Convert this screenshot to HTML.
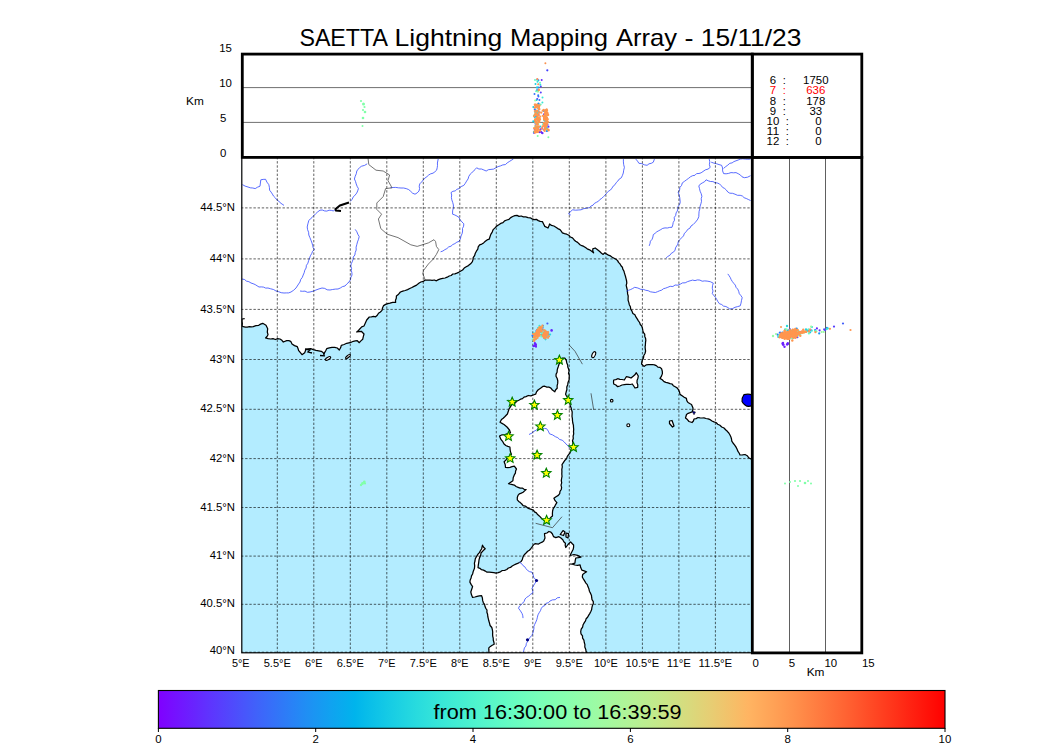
<!DOCTYPE html>
<html><head><meta charset="utf-8"><style>
html,body{margin:0;padding:0;background:#fff;}
svg{display:block;font-family:"Liberation Sans",sans-serif;}
</style></head><body>
<svg width="1050" height="750" viewBox="0 0 1050 750">
<rect x="0" y="0" width="1050" height="750" fill="#fff"/>
<text x="299.4" y="45.6" font-size="24" textLength="88.6" lengthAdjust="spacingAndGlyphs">SAETTA</text>
<text x="394.6" y="45.6" font-size="24" textLength="107.6" lengthAdjust="spacingAndGlyphs">Lightning</text>
<text x="510" y="45.6" font-size="24" textLength="98" lengthAdjust="spacingAndGlyphs">Mapping</text>
<text x="616" y="45.6" font-size="24" textLength="61" lengthAdjust="spacingAndGlyphs">Array</text>
<text x="684.4" y="45.6" font-size="24" textLength="9" lengthAdjust="spacingAndGlyphs">-</text>
<text x="700.8" y="45.6" font-size="24" textLength="100.6" lengthAdjust="spacingAndGlyphs">15/11/23</text>
<defs><clipPath id="mc"><rect x="241.5" y="157" width="511" height="496"/></clipPath><clipPath id="tc"><rect x="242" y="54" width="510" height="103"/></clipPath><clipPath id="rc"><rect x="752" y="157" width="110" height="496"/></clipPath><linearGradient id="cb" x1="0" x2="1" y1="0" y2="0"><stop offset="0.0000" stop-color="#8000ff"/><stop offset="0.0156" stop-color="#780dff"/><stop offset="0.0312" stop-color="#7019ff"/><stop offset="0.0469" stop-color="#6825fe"/><stop offset="0.0625" stop-color="#6032fe"/><stop offset="0.0781" stop-color="#583efd"/><stop offset="0.0938" stop-color="#504afc"/><stop offset="0.1094" stop-color="#4856fb"/><stop offset="0.1250" stop-color="#4062fa"/><stop offset="0.1406" stop-color="#386df9"/><stop offset="0.1562" stop-color="#3078f7"/><stop offset="0.1719" stop-color="#2883f6"/><stop offset="0.1875" stop-color="#208ef4"/><stop offset="0.2031" stop-color="#1898f2"/><stop offset="0.2188" stop-color="#10a2f0"/><stop offset="0.2344" stop-color="#08abee"/><stop offset="0.2500" stop-color="#00b4ec"/><stop offset="0.2656" stop-color="#08bde9"/><stop offset="0.2812" stop-color="#10c5e7"/><stop offset="0.2969" stop-color="#18cde4"/><stop offset="0.3125" stop-color="#20d4e1"/><stop offset="0.3281" stop-color="#28dbde"/><stop offset="0.3438" stop-color="#30e1db"/><stop offset="0.3594" stop-color="#38e7d7"/><stop offset="0.3750" stop-color="#40ecd4"/><stop offset="0.3906" stop-color="#48f0d0"/><stop offset="0.4062" stop-color="#50f4cd"/><stop offset="0.4219" stop-color="#58f7c9"/><stop offset="0.4375" stop-color="#60fac5"/><stop offset="0.4531" stop-color="#68fcc1"/><stop offset="0.4688" stop-color="#70febd"/><stop offset="0.4844" stop-color="#78ffb9"/><stop offset="0.5000" stop-color="#80ffb4"/><stop offset="0.5156" stop-color="#87ffb0"/><stop offset="0.5312" stop-color="#8ffeab"/><stop offset="0.5469" stop-color="#97fca7"/><stop offset="0.5625" stop-color="#9ffaa2"/><stop offset="0.5781" stop-color="#a7f79d"/><stop offset="0.5938" stop-color="#aff498"/><stop offset="0.6094" stop-color="#b7f093"/><stop offset="0.6250" stop-color="#bfec8e"/><stop offset="0.6406" stop-color="#c7e788"/><stop offset="0.6562" stop-color="#cfe183"/><stop offset="0.6719" stop-color="#d7db7e"/><stop offset="0.6875" stop-color="#dfd478"/><stop offset="0.7031" stop-color="#e7cd73"/><stop offset="0.7188" stop-color="#efc56d"/><stop offset="0.7344" stop-color="#f7bd67"/><stop offset="0.7500" stop-color="#ffb462"/><stop offset="0.7656" stop-color="#ffab5c"/><stop offset="0.7812" stop-color="#ffa256"/><stop offset="0.7969" stop-color="#ff9850"/><stop offset="0.8125" stop-color="#ff8e4a"/><stop offset="0.8281" stop-color="#ff8344"/><stop offset="0.8438" stop-color="#ff783e"/><stop offset="0.8594" stop-color="#ff6d38"/><stop offset="0.8750" stop-color="#ff6232"/><stop offset="0.8906" stop-color="#ff562c"/><stop offset="0.9062" stop-color="#ff4a25"/><stop offset="0.9219" stop-color="#ff3e1f"/><stop offset="0.9375" stop-color="#ff3219"/><stop offset="0.9531" stop-color="#ff2513"/><stop offset="0.9688" stop-color="#ff190d"/><stop offset="0.9844" stop-color="#ff0d06"/><stop offset="1.0000" stop-color="#ff0000"/></linearGradient></defs>
<g clip-path="url(#mc)">
<rect x="241" y="157" width="512" height="497" fill="#b3ecff"/>
<polygon points="244.7,318.7 242.0,319.0 241.9,321.3 242.3,323.7 242.0,326.0 243.3,326.7 245.3,327.2 247.3,327.1 249.3,326.7 251.3,326.9 253.3,326.7 255.9,325.7 258.7,325.3 260.6,324.1 262.7,323.3 266.0,325.3 267.7,328.7 267.3,332.0 268.0,334.7 267.0,336.5 265.6,338.0 268.1,338.7 270.7,339.0 273.0,338.7 275.4,339.5 277.7,338.6 280.0,339.0 281.9,340.3 283.3,342.0 286.7,340.7 288.8,340.6 290.7,341.3 292.0,344.0 294.5,345.6 297.3,346.7 298.1,348.7 298.7,350.7 300.4,352.7 302.0,354.7 304.7,352.7 306.0,349.3 308.3,348.8 310.7,348.7 313.3,349.7 316.0,350.4 318.7,350.8 321.3,351.3 323.3,352.7 324.0,354.7 324.6,352.6 325.7,350.7 326.7,348.7 329.3,347.8 332.0,347.3 334.7,347.3 337.3,348.0 339.3,350.0 340.6,347.8 341.3,345.3 344.1,344.5 346.7,343.3 348.9,342.8 351.2,342.3 353.3,341.3 355.3,340.9 357.3,340.7 359.3,342.7 360.9,340.9 362.7,339.3 363.3,336.6 364.0,334.0 361.3,331.3 359.0,331.7 356.7,332.0 358.5,330.5 360.0,328.7 361.7,326.9 364.0,326.0 364.9,324.0 365.8,322.0 366.7,320.0 369.3,317.0 371.4,316.8 373.5,316.4 375.6,316.8 377.3,315.3 378.5,313.3 380.4,312.0 382.0,310.4 382.5,307.9 383.6,305.6 385.6,304.4 387.8,303.7 390.0,303.2 392.7,302.4 395.6,302.4 395.5,300.2 396.3,298.2 396.4,296.0 398.6,294.2 400.4,292.0 402.8,291.1 405.2,290.5 407.6,289.6 409.7,288.5 411.9,287.5 414.0,286.4 416.6,285.1 418.8,283.2 420.8,282.0 423.2,281.4 425.2,280.0 427.6,280.2 430.0,280.0 432.1,280.4 434.3,280.0 436.4,280.8 438.4,279.6 440.5,278.8 442.7,278.3 445.1,278.0 447.2,277.2 449.2,276.0 451.2,275.5 452.8,274.0 454.9,273.8 456.8,273.1 458.7,272.3 460.4,271.2 462.6,270.0 464.2,268.1 466.2,266.7 468.4,265.6 470.6,263.8 472.4,261.6 473.0,259.6 473.2,257.6 474.6,255.6 475.3,253.3 476.4,251.2 477.8,249.2 478.2,246.8 479.6,244.8 481.8,244.1 483.6,242.9 485.3,241.3 487.1,239.9 489.2,239.2 490.0,236.8 490.8,234.4 492.2,232.1 493.2,229.6 495.0,227.9 496.6,226.1 498.8,224.8 500.7,223.4 503.0,222.7 504.6,220.8 506.8,220.0 509.0,219.3 510.7,217.6 512.7,216.5 514.8,215.7 517.0,215.4 519.0,216.4 521.2,216.0 523.4,216.9 525.8,216.9 528.0,217.6 530.2,217.8 532.1,218.9 534.1,219.7 536.4,219.4 538.3,220.6 540.2,221.4 542.4,221.6 543.6,224.0 544.8,226.4 548.0,228.0 548.9,226.0 549.6,224.0 551.5,225.4 553.9,226.0 555.9,227.2 557.8,228.6 560.0,229.6 561.2,231.2 562.4,232.8 564.5,233.6 566.7,234.2 568.8,235.2 570.3,237.0 572.5,237.9 574.0,239.7 575.6,241.3 577.6,242.4 580.0,244.8 581.8,245.7 583.8,246.4 585.5,247.6 587.2,248.8 589.6,249.8 591.7,251.2 593.6,252.8 592.8,250.9 592.8,248.8 595.2,248.0 596.9,249.2 598.5,250.5 600.0,251.8 601.5,253.2 603.2,254.4 604.8,252.8 606.6,254.0 608.4,255.1 610.5,255.9 612.2,257.2 614.1,258.2 616.0,259.2 617.6,260.6 618.5,262.4 620.0,263.9 621.0,265.7 622.4,267.2 622.8,269.2 623.9,271.0 624.4,272.9 625.0,274.9 625.6,276.8 626.1,278.9 626.6,281.0 626.8,283.1 626.2,285.4 626.7,287.5 627.2,289.6 627.5,291.7 627.6,293.9 628.2,296.0 628.1,298.2 628.1,300.3 628.8,302.4 629.3,304.7 630.4,306.8 630.7,309.2 632.0,311.2 632.9,313.4 634.9,314.8 635.9,316.9 637.2,318.9 638.4,320.8 639.6,322.5 640.3,324.5 641.7,326.0 642.4,328.0 642.8,330.2 643.3,332.3 644.7,334.1 644.8,336.4 645.6,338.4 645.8,340.5 645.5,342.7 645.4,344.8 645.1,346.9 645.3,349.1 645.6,351.2 645.0,353.5 643.8,355.5 643.5,357.9 642.4,360.0 641.8,362.0 641.6,364.0 644.0,366.4 646.4,364.8 648.4,364.7 650.4,364.6 652.4,364.5 654.4,364.8 656.3,365.6 657.9,367.1 660.0,367.4 661.6,368.8 662.3,371.2 662.4,373.6 661.5,376.1 660.0,378.4 662.2,379.7 664.0,381.6 665.9,382.4 668.0,382.9 670.0,383.6 672.0,384.0 673.3,385.7 675.2,386.8 677.1,387.9 678.4,389.6 679.5,391.9 680.0,394.4 682.1,395.7 684.2,397.2 686.4,398.4 686.8,400.6 688.0,402.5 689.7,403.5 691.5,404.5 693.0,408.0 692.8,410.1 692.0,412.0 690.1,412.7 688.2,413.3 686.5,414.5 685.5,418.0 687.4,419.6 689.0,421.5 692.0,422.5 693.4,421.0 694.0,419.0 696.1,418.6 698.0,417.5 700.0,417.8 702.0,418.0 704.0,417.9 706.0,418.5 708.1,418.9 710.2,419.7 712.0,421.0 713.9,421.9 716.0,422.5 717.7,424.3 719.9,425.3 721.7,427.0 724.0,428.0 725.6,429.7 727.3,431.3 728.8,433.0 730.0,435.0 730.9,436.9 731.5,439.0 731.8,441.2 733.0,443.0 734.5,444.9 735.9,446.9 737.0,449.0 737.8,451.1 739.1,453.0 740.0,455.0 742.5,454.8 745.0,454.5 747.2,455.7 748.8,457.8 751.0,459.0 753.0,460.5 760.0,460.0 760.0,150.0 235.0,150.0 235.0,318.7" fill="#fff"/>
<polyline points="244.7,318.7 242.0,319.0 241.9,321.3 242.3,323.7 242.0,326.0 243.3,326.7 245.3,327.2 247.3,327.1 249.3,326.7 251.3,326.9 253.3,326.7 255.9,325.7 258.7,325.3 260.6,324.1 262.7,323.3 266.0,325.3 267.7,328.7 267.3,332.0 268.0,334.7 267.0,336.5 265.6,338.0 268.1,338.7 270.7,339.0 273.0,338.7 275.4,339.5 277.7,338.6 280.0,339.0 281.9,340.3 283.3,342.0 286.7,340.7 288.8,340.6 290.7,341.3 292.0,344.0 294.5,345.6 297.3,346.7 298.1,348.7 298.7,350.7 300.4,352.7 302.0,354.7 304.7,352.7 306.0,349.3 308.3,348.8 310.7,348.7 313.3,349.7 316.0,350.4 318.7,350.8 321.3,351.3 323.3,352.7 324.0,354.7 324.6,352.6 325.7,350.7 326.7,348.7 329.3,347.8 332.0,347.3 334.7,347.3 337.3,348.0 339.3,350.0 340.6,347.8 341.3,345.3 344.1,344.5 346.7,343.3 348.9,342.8 351.2,342.3 353.3,341.3 355.3,340.9 357.3,340.7 359.3,342.7 360.9,340.9 362.7,339.3 363.3,336.6 364.0,334.0 361.3,331.3 359.0,331.7 356.7,332.0 358.5,330.5 360.0,328.7 361.7,326.9 364.0,326.0 364.9,324.0 365.8,322.0 366.7,320.0 369.3,317.0 371.4,316.8 373.5,316.4 375.6,316.8 377.3,315.3 378.5,313.3 380.4,312.0 382.0,310.4 382.5,307.9 383.6,305.6 385.6,304.4 387.8,303.7 390.0,303.2 392.7,302.4 395.6,302.4 395.5,300.2 396.3,298.2 396.4,296.0 398.6,294.2 400.4,292.0 402.8,291.1 405.2,290.5 407.6,289.6 409.7,288.5 411.9,287.5 414.0,286.4 416.6,285.1 418.8,283.2 420.8,282.0 423.2,281.4 425.2,280.0 427.6,280.2 430.0,280.0 432.1,280.4 434.3,280.0 436.4,280.8 438.4,279.6 440.5,278.8 442.7,278.3 445.1,278.0 447.2,277.2 449.2,276.0 451.2,275.5 452.8,274.0 454.9,273.8 456.8,273.1 458.7,272.3 460.4,271.2 462.6,270.0 464.2,268.1 466.2,266.7 468.4,265.6 470.6,263.8 472.4,261.6 473.0,259.6 473.2,257.6 474.6,255.6 475.3,253.3 476.4,251.2 477.8,249.2 478.2,246.8 479.6,244.8 481.8,244.1 483.6,242.9 485.3,241.3 487.1,239.9 489.2,239.2 490.0,236.8 490.8,234.4 492.2,232.1 493.2,229.6 495.0,227.9 496.6,226.1 498.8,224.8 500.7,223.4 503.0,222.7 504.6,220.8 506.8,220.0 509.0,219.3 510.7,217.6 512.7,216.5 514.8,215.7 517.0,215.4 519.0,216.4 521.2,216.0 523.4,216.9 525.8,216.9 528.0,217.6 530.2,217.8 532.1,218.9 534.1,219.7 536.4,219.4 538.3,220.6 540.2,221.4 542.4,221.6 543.6,224.0 544.8,226.4 548.0,228.0 548.9,226.0 549.6,224.0 551.5,225.4 553.9,226.0 555.9,227.2 557.8,228.6 560.0,229.6 561.2,231.2 562.4,232.8 564.5,233.6 566.7,234.2 568.8,235.2 570.3,237.0 572.5,237.9 574.0,239.7 575.6,241.3 577.6,242.4 580.0,244.8 581.8,245.7 583.8,246.4 585.5,247.6 587.2,248.8 589.6,249.8 591.7,251.2 593.6,252.8 592.8,250.9 592.8,248.8 595.2,248.0 596.9,249.2 598.5,250.5 600.0,251.8 601.5,253.2 603.2,254.4 604.8,252.8 606.6,254.0 608.4,255.1 610.5,255.9 612.2,257.2 614.1,258.2 616.0,259.2 617.6,260.6 618.5,262.4 620.0,263.9 621.0,265.7 622.4,267.2 622.8,269.2 623.9,271.0 624.4,272.9 625.0,274.9 625.6,276.8 626.1,278.9 626.6,281.0 626.8,283.1 626.2,285.4 626.7,287.5 627.2,289.6 627.5,291.7 627.6,293.9 628.2,296.0 628.1,298.2 628.1,300.3 628.8,302.4 629.3,304.7 630.4,306.8 630.7,309.2 632.0,311.2 632.9,313.4 634.9,314.8 635.9,316.9 637.2,318.9 638.4,320.8 639.6,322.5 640.3,324.5 641.7,326.0 642.4,328.0 642.8,330.2 643.3,332.3 644.7,334.1 644.8,336.4 645.6,338.4 645.8,340.5 645.5,342.7 645.4,344.8 645.1,346.9 645.3,349.1 645.6,351.2 645.0,353.5 643.8,355.5 643.5,357.9 642.4,360.0 641.8,362.0 641.6,364.0 644.0,366.4 646.4,364.8 648.4,364.7 650.4,364.6 652.4,364.5 654.4,364.8 656.3,365.6 657.9,367.1 660.0,367.4 661.6,368.8 662.3,371.2 662.4,373.6 661.5,376.1 660.0,378.4 662.2,379.7 664.0,381.6 665.9,382.4 668.0,382.9 670.0,383.6 672.0,384.0 673.3,385.7 675.2,386.8 677.1,387.9 678.4,389.6 679.5,391.9 680.0,394.4 682.1,395.7 684.2,397.2 686.4,398.4 686.8,400.6 688.0,402.5 689.7,403.5 691.5,404.5 693.0,408.0 692.8,410.1 692.0,412.0 690.1,412.7 688.2,413.3 686.5,414.5 685.5,418.0 687.4,419.6 689.0,421.5 692.0,422.5 693.4,421.0 694.0,419.0 696.1,418.6 698.0,417.5 700.0,417.8 702.0,418.0 704.0,417.9 706.0,418.5 708.1,418.9 710.2,419.7 712.0,421.0 713.9,421.9 716.0,422.5 717.7,424.3 719.9,425.3 721.7,427.0 724.0,428.0 725.6,429.7 727.3,431.3 728.8,433.0 730.0,435.0 730.9,436.9 731.5,439.0 731.8,441.2 733.0,443.0 734.5,444.9 735.9,446.9 737.0,449.0 737.8,451.1 739.1,453.0 740.0,455.0 742.5,454.8 745.0,454.5 747.2,455.7 748.8,457.8 751.0,459.0 753.0,460.5" fill="none" stroke="#000" stroke-width="1.25" stroke-linejoin="round"/>
<polygon points="562.0,358.2 565.0,358.2 566.3,360.4 566.8,363.0 567.7,364.9 567.8,367.1 568.6,369.0 569.1,371.1 568.5,373.2 569.3,375.3 569.2,377.4 569.1,379.9 568.1,382.2 567.7,384.7 566.8,387.0 566.9,389.5 566.2,391.8 565.6,394.2 566.5,396.0 567.7,397.7 568.0,399.8 569.2,401.4 570.0,403.4 570.2,405.7 571.1,407.7 571.6,409.8 572.2,412.0 572.1,414.2 572.0,416.4 572.4,418.6 572.5,420.8 572.8,423.0 573.4,425.1 573.5,427.3 573.7,429.4 573.5,431.6 573.7,433.8 573.1,436.1 573.3,438.5 572.5,440.8 573.0,443.2 572.3,445.5 571.8,448.0 570.7,450.4 570.1,452.9 568.6,454.6 567.3,456.4 566.6,458.6 565.0,460.2 563.5,462.4 562.0,464.6 562.3,466.9 561.8,469.3 561.9,471.6 561.8,474.0 562.0,476.3 561.6,478.5 561.3,480.7 561.7,482.9 561.0,485.1 561.6,487.3 561.3,489.5 560.0,491.3 559.7,493.6 558.3,495.4 556.0,496.7 553.9,498.3 555.1,500.7 556.9,502.7 555.6,504.6 554.6,506.7 553.2,508.6 552.6,511.0 552.4,513.5 552.5,516.0 550.9,517.3 549.5,518.9 548.2,520.5 546.6,521.8 544.6,520.3 542.4,519.3 540.7,517.4 539.3,515.9 537.6,514.6 536.4,512.9 534.5,511.9 533.4,510.1 531.3,509.3 529.1,508.7 527.2,507.6 525.3,506.1 523.1,505.7 521.8,504.0 520.3,502.6 518.7,501.4 517.3,499.8 517.3,497.5 518.0,495.4 519.3,493.8 521.3,493.1 523.1,492.3 524.6,490.9 526.1,489.5 524.1,489.3 522.3,488.1 520.2,488.1 518.1,487.3 516.1,486.5 514.3,485.1 511.4,484.4 508.5,483.7 510.7,482.2 512.9,480.7 513.2,477.7 514.3,474.9 515.4,473.1 515.6,470.9 516.5,469.0 514.3,466.1 512.1,466.6 510.0,467.3 507.8,467.6 505.5,467.5 505.2,464.5 504.1,461.7 505.9,460.1 507.0,458.0 509.3,456.2 511.4,454.3 510.5,452.0 510.1,449.5 509.9,447.0 507.8,446.4 505.8,445.5 504.1,444.1 502.8,441.7 501.1,439.7 500.3,437.9 499.5,436.0 502.1,434.8 505.0,434.5 507.7,433.5 510.5,433.0 509.5,430.0 507.0,427.0 504.0,424.5 502.0,423.4 500.0,422.3 501.5,419.5 503.2,418.2 505.0,416.5 507.4,414.0 508.3,411.3 509.2,408.6 510.4,406.8 511.6,405.0 513.2,403.5 515.4,402.8 516.8,401.1 518.8,400.2 520.6,399.2 522.5,398.6 524.0,397.1 526.0,396.6 528.3,395.5 530.9,395.9 533.2,395.0 535.6,394.2 536.5,391.9 538.0,390.0 540.5,388.3 542.8,386.4 544.8,386.2 546.8,387.1 548.8,387.0 550.9,388.1 552.4,390.0 554.8,391.8 555.7,389.8 557.2,388.2 557.1,385.8 557.7,383.4 557.8,381.0 557.2,378.5 556.0,376.2 556.1,374.1 557.1,372.3 557.2,370.2 557.7,368.2 558.4,366.2 559.0,364.2 560.2,362.3 560.8,360.1 562.0,358.2" fill="#fff" stroke="#000" stroke-width="1.25" stroke-linejoin="round"/>
<polygon points="469.9,582.1 470.2,579.9 471.1,578.0 471.5,575.9 472.6,574.0 473.3,571.2 474.4,568.6 474.7,565.9 474.4,563.2 475.0,561.0 475.3,558.7 476.6,556.4 478.0,554.2 479.4,552.6 480.4,550.7 481.6,549.0 482.5,545.2 483.6,547.2 485.2,548.8 483.0,550.8 481.0,553.0 480.7,555.4 479.6,557.6 479.0,560.0 478.7,562.6 478.3,565.1 478.0,567.7 479.9,568.3 481.5,569.7 483.5,570.1 485.3,571.1 487.0,572.2 489.3,572.2 491.5,572.4 493.8,572.6 496.0,573.1 498.2,572.6 500.4,571.8 502.3,570.5 504.7,570.3 506.8,569.5 508.4,568.0 510.5,567.4 512.2,566.0 514.0,565.0 515.8,564.1 517.7,563.4 519.5,562.5 521.2,561.4 522.3,559.7 522.8,557.7 523.5,555.8 524.8,554.2 526.3,552.8 527.7,551.3 529.4,550.2 530.8,548.7 532.0,547.0 533.3,545.1 535.0,543.6 538.5,544.1 540.2,543.0 542.1,542.2 543.7,541.0 545.0,538.0 544.7,535.9 544.5,533.7 546.9,533.0 548.9,531.5 550.9,532.2 552.3,533.7 553.6,536.7 555.8,537.6 558.9,536.7 560.9,538.1 562.8,539.7 563.8,541.7 565.4,543.2 565.2,545.4 565.8,547.5 568.0,544.5 570.6,541.9 572.1,543.5 573.6,545.0 573.6,547.2 573.2,549.3 571.4,552.8 570.1,555.4 572.1,555.0 574.0,554.5 577.5,555.4 581.0,557.1 578.4,557.7 575.8,558.0 575.2,560.6 574.9,563.2 572.3,563.8 569.7,564.0 572.4,564.1 574.9,565.0 577.5,565.3 580.1,564.9 580.7,567.6 581.8,570.1 584.2,570.9 586.6,571.8 584.6,573.0 582.7,574.4 582.3,577.0 583.5,579.2 584.9,581.4 585.9,583.1 587.3,584.6 587.9,586.6 588.9,588.8 589.4,591.2 590.6,593.4 591.5,595.6 591.7,597.7 592.0,599.7 593.3,601.6 593.3,603.7 592.4,605.6 591.9,607.7 591.6,609.8 590.7,611.7 589.7,613.6 588.6,615.4 587.6,617.2 586.1,618.8 585.5,620.9 584.3,622.6 583.1,624.7 582.6,627.1 581.2,629.2 580.7,631.6 581.0,633.9 582.5,635.9 582.6,638.2 583.9,640.2 584.3,642.5 584.9,644.7 584.8,647.1 585.7,649.2 586.1,651.5 586.8,653.7 586.5,656.0 584.5,656.5 582.4,655.5 580.4,655.6 578.4,655.5 576.3,656.2 574.3,656.2 572.3,655.8 570.2,656.5 568.2,655.9 566.1,656.3 564.1,656.3 562.1,655.7 560.0,656.3 558.0,655.5 556.0,655.8 553.9,655.9 551.9,655.9 549.9,656.3 547.8,655.5 545.8,656.5 543.8,655.6 541.7,656.0 539.7,655.9 537.6,656.0 535.6,656.1 533.6,656.3 531.5,656.1 529.5,655.9 527.5,656.2 525.4,655.7 523.4,655.8 521.4,656.5 519.3,656.4 517.3,655.7 515.3,656.0 513.2,656.4 511.2,656.0 509.2,656.0 507.1,655.8 505.1,656.0 503.0,655.6 501.0,656.5 499.0,655.6 496.9,655.8 494.9,656.1 492.9,656.4 490.8,656.4 488.8,656.0 489.0,654.0 489.0,652.0 488.8,649.9 488.8,647.9 490.4,646.4 492.2,645.2 494.2,644.3 493.9,642.2 493.3,640.2 493.2,638.2 492.7,636.1 492.6,634.0 492.7,632.0 492.4,629.9 491.8,627.5 490.1,625.5 489.5,623.1 488.8,620.8 488.3,618.7 487.8,616.5 487.6,614.3 486.9,612.2 487.0,610.0 485.8,608.3 485.0,606.5 484.6,604.4 483.4,602.8 482.6,600.4 482.4,598.0 481.6,595.6 479.3,595.8 477.1,596.3 474.9,597.0 472.6,597.4 471.5,594.8 470.8,592.0 471.7,589.3 472.6,586.6 471.1,584.4 469.9,582.1" fill="#fff" stroke="#000" stroke-width="1.25" stroke-linejoin="round"/>
<polygon points="613.7,380.0 615.8,379.6 617.7,378.7 619.9,379.3 622.1,379.5 624.3,380.0 626.3,376.7 628.7,377.1 631.0,378.0 632.9,376.4 634.9,374.8 636.3,372.7 638.3,376.0 637.9,378.2 637.1,380.4 637.0,382.7 637.8,384.9 637.7,387.3 635.0,388.0 633.7,386.0 632.3,384.0 630.3,384.5 628.3,384.4 626.3,384.4 624.3,384.7 622.0,385.0 619.9,386.0 617.7,386.7 615.9,385.0 613.7,384.0 613.5,382.0 613.7,380.0" fill="#fff" stroke="#000" stroke-width="1.25" stroke-linejoin="round"/>
<polygon points="669.5,421.0 672.0,420.5 674.0,426.0 672.5,427.0 669.5,423.5" fill="#fff" stroke="#000" stroke-width="1.25" stroke-linejoin="round"/>
<polygon points="560.2,534.5 563.0,530.6 565.0,532.0 563.5,535.5" fill="#fff" stroke="#000" stroke-width="1.25" stroke-linejoin="round"/>
<polygon points="566.0,533.0 568.5,533.6 568.0,538.0 566.0,537.0" fill="#fff" stroke="#000" stroke-width="1.25" stroke-linejoin="round"/>
<ellipse cx="593.7" cy="354.7" rx="1.6" ry="3.2" transform="rotate(25 593.7 354.7)" fill="#fff" stroke="#000" stroke-width="1.1"/>
<circle cx="611.7" cy="400.7" r="1.3" fill="#fff" stroke="#000" stroke-width="1.1"/>
<circle cx="628.3" cy="425.3" r="1.5" fill="#fff" stroke="#000" stroke-width="1.1"/>
<ellipse cx="328" cy="358.5" rx="3" ry="1.2" transform="rotate(-30 328 358.5)" fill="#fff" stroke="#000" stroke-width="1.1"/>
<ellipse cx="348" cy="356.5" rx="3" ry="1" transform="rotate(-40 348 356.5)" fill="#fff" stroke="#000" stroke-width="1.1"/>
<path d="M305,349 l5,1 l-2,2 l4,1" fill="none" stroke="#000" stroke-width="1.3"/>
<path d="M320,355.5 l5,0.3" fill="none" stroke="#000" stroke-width="1.3"/>
<polyline points="242.4,184.6 245.1,186.1 248.0,187.0 250.3,187.8 252.8,188.0 255.2,188.6 257.5,187.2 260.0,186.2 260.4,183.0 260.8,179.8 263.2,179.4 265.6,179.3 266.9,182.1 268.8,184.6 269.4,187.4 269.6,190.2 271.1,192.1 272.4,194.1 273.6,196.2 275.4,197.9 276.8,199.8 278.7,201.0 280.2,202.8 282.1,204.1 284.0,205.4" fill="none" stroke="#3048ff" stroke-width="0.8" stroke-linejoin="round"/>
<polyline points="367.2,163.8 364.6,165.4 361.6,166.2 359.7,167.5 358.2,169.2 356.8,171.0 356.3,173.7 355.2,176.3 354.4,179.0 355.5,181.4 356.2,183.9 357.1,186.3 358.4,188.6 357.7,190.9 356.7,193.1 355.2,195.0 353.3,196.9 352.1,199.3 350.4,201.4" fill="none" stroke="#3048ff" stroke-width="0.8" stroke-linejoin="round"/>
<polyline points="335.2,209.4 333.6,211.0 331.4,210.4 329.1,210.2 326.8,211.1 324.5,210.9 322.3,210.0 320.0,210.2 317.7,211.9 315.6,213.8 313.6,215.8 312.1,217.5 310.3,218.9 308.8,220.6 307.9,223.8 307.2,227.0 307.6,229.7 308.6,232.3 308.8,235.0 309.9,237.6 311.0,240.3 312.0,243.0 312.6,245.2 313.1,247.5 314.4,249.4 312.6,251.3 311.7,253.6 310.4,255.8 309.5,258.2 308.6,260.7 307.9,263.2 306.4,265.4 306.1,268.0 304.8,270.2 304.2,272.7 303.2,275.0 302.3,277.4 300.7,279.5 300.0,282.0 298.6,284.0 297.3,286.0 296.0,288.0 293.7,290.2 291.0,292.0 288.7,292.9 286.4,292.9 284.0,293.0 281.2,292.7 278.7,291.7 276.0,291.0 273.5,289.5 270.7,288.8 268.0,288.0 265.7,288.1 263.5,287.1 261.3,286.9 259.0,287.0 257.1,285.8 255.2,284.6 253.1,283.7 251.0,283.0 248.9,281.7 246.4,281.1 244.5,279.5 242.0,279.0" fill="none" stroke="#3048ff" stroke-width="0.8" stroke-linejoin="round"/>
<polyline points="355.2,229.4 356.8,231.7 357.8,234.2 359.2,236.6 358.5,239.3 357.5,241.9 356.8,244.6 356.1,247.2 356.2,250.0 355.2,252.6 354.9,255.0 353.3,257.0 353.0,259.4 352.3,261.7 351.2,263.8 350.8,266.1 351.6,268.3 351.3,270.5 351.9,272.8 352.0,275.0 350.9,277.3 350.4,279.8 349.0,282.0 346.9,283.9 345.0,286.0 342.5,286.6 340.3,288.0 338.0,289.0 335.3,289.1 332.6,289.5 330.0,290.0 327.2,289.8 324.7,288.4 322.0,288.0 319.0,288.9 316.0,290.0 313.1,291.2 310.0,292.0 307.4,292.3 305.0,291.1 302.5,291.3 300.0,291.0" fill="none" stroke="#3048ff" stroke-width="0.8" stroke-linejoin="round"/>
<polyline points="390.4,187.8 393.1,187.5 395.7,187.4 398.4,187.8 401.0,188.0 403.6,188.0 406.2,188.6 408.7,189.6 410.7,191.3 412.6,193.2 415.0,194.2 417.2,192.9 419.0,191.0 419.6,188.6 419.2,186.2 419.8,183.8 421.6,182.0 423.2,180.0 424.9,178.1 427.0,176.6 428.7,175.0 430.7,173.8 433.0,173.2 434.9,171.8 436.6,170.2 437.2,167.8 437.5,165.4 437.4,163.0 438.2,159.0" fill="none" stroke="#3048ff" stroke-width="0.8" stroke-linejoin="round"/>
<polyline points="513.4,159.0 511.3,160.3 509.2,161.6 507.2,162.9 505.4,164.6 502.8,164.9 500.5,165.9 498.1,166.6 495.8,167.8 493.6,169.1 491.0,169.4 488.4,169.7 486.2,171.0 483.9,170.0 481.5,169.0 478.9,169.0 476.6,167.8 475.0,169.4 473.6,171.2 471.8,172.6 470.2,174.2 468.8,176.4 468.1,178.9 466.6,181.1 465.3,183.3 463.8,185.4 461.1,186.6 459.0,188.6 456.9,189.3 455.2,190.9 452.9,191.3 451.0,192.6 451.7,195.0 451.4,197.4 451.8,199.8 452.7,202.4 453.4,205.0 453.4,207.8 452.6,210.9 452.6,214.2 454.9,215.0 457.0,216.1 459.0,217.4 460.2,219.9 461.9,221.9 463.8,223.8 463.6,226.2 462.5,228.5 462.6,231.0 462.2,233.4 461.0,236.0 460.4,238.9 459.0,241.4 456.8,242.2 454.9,243.6 452.7,244.6 451.0,246.2 448.7,246.9 446.9,248.6 444.8,249.7 442.9,251.0 440.6,251.8" fill="none" stroke="#3048ff" stroke-width="0.8" stroke-linejoin="round"/>
<polyline points="623.4,159.1 623.4,161.9 623.7,164.7 624.4,167.4 623.7,170.2 623.3,173.0 622.3,175.7 621.3,177.8 619.2,179.1 617.9,181.0 616.2,182.6 615.1,184.6 613.2,186.1 612.0,188.1 610.5,190.0 608.3,191.3 606.7,193.1 605.2,195.0 603.4,196.7 601.7,198.4 599.8,199.6 598.4,201.3 596.4,202.3 594.4,203.4 593.0,205.2 590.9,206.1 589.3,207.7 586.5,208.2 583.7,208.7 581.0,209.8 578.2,210.0 575.5,210.2 572.7,209.8 570.4,211.6 568.6,213.9 570.7,215.0" fill="none" stroke="#3048ff" stroke-width="0.8" stroke-linejoin="round"/>
<polyline points="635.8,159.1 637.5,161.1 638.9,163.3 641.7,163.6 644.3,164.8 647.1,165.3 649.0,163.8 651.3,163.3 653.3,162.2 654.4,159.1" fill="none" stroke="#3048ff" stroke-width="0.8" stroke-linejoin="round"/>
<polyline points="709.2,159.1 709.8,161.8 709.4,164.7 710.2,167.4 708.0,169.1 705.3,169.9 703.0,171.5 701.1,172.8 699.0,173.5 696.6,173.6 694.9,175.3 692.6,175.7 690.6,176.7 688.6,178.3 686.5,179.8 684.4,181.4 682.3,182.9 681.6,185.4 679.9,187.4 679.6,190.1 678.2,192.2 679.0,194.7 679.7,197.2 680.0,199.9 680.2,202.5 679.5,204.6 678.1,206.5 677.9,208.8 677.3,211.0 676.1,212.9 675.7,215.4 674.2,217.6 674.5,220.2 673.2,222.5 672.8,224.9 672.0,227.3 669.7,227.4 667.4,228.0 665.0,227.9 662.7,228.4 660.8,229.6 658.8,230.7 656.8,231.8 655.1,233.3 653.3,234.6 652.9,237.0 652.1,239.3 650.4,241.2 650.0,243.6 649.2,245.9" fill="none" stroke="#3048ff" stroke-width="0.8" stroke-linejoin="round"/>
<polyline points="750.5,200.5 748.4,199.5 746.3,198.5 744.1,197.7 742.4,196.0 740.2,195.3 737.5,195.3 735.0,194.2 732.5,193.3 729.8,193.2 727.8,192.0 726.4,190.1 724.7,188.5 722.6,187.4 721.1,185.5 719.5,183.9 717.3,183.0 715.0,182.6 712.9,181.6 710.5,181.5 708.2,180.8 706.1,179.8 704.6,181.7 702.4,182.9 700.3,184.1 698.8,186.0 699.5,188.6 700.1,191.2 701.2,193.7 701.9,196.3 701.2,198.7 701.5,201.3 700.9,203.8 700.1,206.2 699.9,208.7 699.1,211.3 698.9,213.9 698.8,216.6 697.8,219.1 696.4,221.0 694.8,222.9 693.1,224.6 691.0,226.0 689.9,228.2 687.7,229.4 686.4,231.5 684.4,233.3 683.5,235.9 681.6,237.8 679.8,239.7 678.2,241.8 677.9,244.1 676.7,246.0 675.5,247.9 675.1,250.1 673.5,252.1 671.3,253.3 669.8,255.3 667.6,256.6 665.8,258.3" fill="none" stroke="#3048ff" stroke-width="0.8" stroke-linejoin="round"/>
<polyline points="711.2,162.2 713.8,163.1 716.4,163.7 719.0,164.6 721.6,165.3 722.6,168.0 722.6,170.9 723.6,173.6 726.1,173.8 728.6,173.4 731.0,172.6 733.5,172.8 736.0,172.6 738.2,173.7 740.3,174.9 742.0,176.8 744.3,177.7 747.6,177.2 750.5,175.7" fill="none" stroke="#3048ff" stroke-width="0.8" stroke-linejoin="round"/>
<polyline points="723.6,168.4 725.6,166.7 727.8,165.1 729.8,163.3 732.1,162.9 733.9,161.6 736.0,160.8 738.2,160.0 740.2,159.1 742.8,158.8 745.4,159.1 747.9,159.2 750.5,159.1" fill="none" stroke="#3048ff" stroke-width="0.8" stroke-linejoin="round"/>
<polyline points="626.5,291.4 628.5,290.3 630.7,289.5 632.7,288.5 634.7,287.3 637.9,288.0 640.9,289.4 643.4,289.4 645.8,290.3 648.2,290.7 650.5,291.8 652.9,292.2 655.4,292.5 657.5,291.7 659.6,290.8 661.7,290.1 663.5,288.7 665.7,288.1 667.8,287.3 670.2,286.3 672.9,286.5 675.1,285.0 677.8,285.2 680.2,284.2 682.5,282.9 685.2,282.8 687.6,281.6 690.1,280.8 692.6,280.1 695.0,280.6 697.5,279.9 699.9,280.1 702.2,281.2 704.7,280.9 707.1,281.1 710.3,281.7 713.3,283.2 712.5,285.7 712.3,288.3 713.0,291.0 712.3,293.5 713.8,295.5 715.5,297.4 716.8,299.6 718.0,301.8 719.5,303.8 721.7,304.5 723.5,306.1 725.9,306.5 727.9,307.6 729.8,309.0 732.5,308.6 735.0,307.3 737.6,306.6 740.2,305.9 741.0,303.2 741.5,300.4 742.2,297.6 740.9,295.6 739.3,293.7 738.7,291.3 737.7,289.1 736.0,287.3 735.3,285.1 733.8,283.4 732.4,281.6 731.2,279.7 730.3,277.6 729.1,275.7 727.8,273.9" fill="none" stroke="#3048ff" stroke-width="0.8" stroke-linejoin="round"/>
<polyline points="529.0,434.5 532.0,433.0 533.8,431.4 536.0,430.3 537.8,428.7 540.0,428.9 542.2,429.1 544.4,428.4 546.6,428.7 548.3,431.1 549.5,433.8 552.6,434.9 555.4,436.7 557.8,437.7 559.7,439.5 562.2,440.2 564.2,441.9 565.9,443.9 567.8,445.6 569.3,447.7" fill="none" stroke="#3048ff" stroke-width="0.8" stroke-linejoin="round"/>
<polyline points="519.4,562.3 521.5,563.5 522.9,565.5 524.8,566.8 526.0,568.7 527.5,570.4 529.6,571.7 532.0,572.2 533.1,574.8 533.8,577.6 535.4,579.2 536.5,581.2 534.8,583.5 533.4,585.9 532.0,588.4 532.7,590.6 532.9,592.9 530.7,594.2 528.8,596.0 526.6,597.4 525.0,599.0 524.2,601.3 522.8,603.0 521.2,604.6 519.5,606.1 518.5,608.2 520.4,610.8 522.1,613.6 522.8,615.8 523.0,618.1" fill="none" stroke="#3048ff" stroke-width="0.8" stroke-linejoin="round"/>
<polyline points="560.0,597.4 557.3,597.8 555.2,599.7 552.4,599.9 550.0,601.0 548.4,602.7 546.1,603.3 544.9,605.5 542.8,606.4 541.3,608.4 540.5,610.6 539.2,612.7 538.0,614.8 537.4,617.2 536.8,619.7 535.8,622.1 534.7,624.4 533.9,626.5 533.9,628.8 533.3,631.0 532.8,633.2 532.0,635.3 530.2,637.2 528.7,639.3 527.5,641.6 526.3,643.6 526.0,646.0 524.4,647.9 523.9,650.2 523.0,652.4" fill="none" stroke="#3048ff" stroke-width="0.8" stroke-linejoin="round"/>
<polyline points="368.0,158.2 368.8,164.6 376.0,170.2 383.2,171.0 389.6,175.0 388.0,180.6 392.0,187.8 385.6,188.6 383.2,196.6 376.8,203.0 376.8,209.4 381.6,214.2 378.4,219.0 380.8,228.6 387.2,234.2 398.0,237.6 410.8,244.8 417.2,246.4 428.4,242.9 434.0,239.7 435.6,241.6 436.4,246.4 438.8,249.6 436.4,254.4 433.2,259.2 428.4,264.0 423.6,270.4 422.8,273.6 425.2,280.0" fill="none" stroke="#505050" stroke-width="0.8" stroke-linejoin="round"/>
<polyline points="569.2,345.0 575.0,351.3 582.4,364.2" fill="none" stroke="#303030" stroke-width="0.7"/>
<polyline points="591.0,393.3 593.7,410.0" fill="none" stroke="#303030" stroke-width="0.7"/>
<polyline points="535.6,523.3 552.5,527.7 562.0,516.7" fill="none" stroke="#303030" stroke-width="0.7"/>
<path d="M349,202.5 L340,205.5 L335.5,209 L336,210.5 L341,211" fill="none" stroke="#000" stroke-width="2"/>
<path d="M744,394.6 Q749,393.5 752,395 L752,405.5 Q748,407.5 745,405 Q743,403.5 742,401.5 Q741.5,398 744,394.6 Z" fill="#0000ff" stroke="#000" stroke-width="1.1"/>
<path d="M692,411 L695.5,412 L694,414.8 Z" fill="#000090" stroke="#000" stroke-width="0.5"/>
<circle cx="536.5" cy="580.5" r="1.6" fill="#000080"/>
<circle cx="527.5" cy="639.8" r="1.6" fill="#000080"/>
<line x1="277.3" y1="157" x2="277.3" y2="653" stroke="#000" stroke-width="1" stroke-dasharray="2.4 1.75" opacity="0.62"/>
<line x1="313.8" y1="157" x2="313.8" y2="653" stroke="#000" stroke-width="1" stroke-dasharray="2.4 1.75" opacity="0.62"/>
<line x1="350.3" y1="157" x2="350.3" y2="653" stroke="#000" stroke-width="1" stroke-dasharray="2.4 1.75" opacity="0.62"/>
<line x1="386.8" y1="157" x2="386.8" y2="653" stroke="#000" stroke-width="1" stroke-dasharray="2.4 1.75" opacity="0.62"/>
<line x1="423.3" y1="157" x2="423.3" y2="653" stroke="#000" stroke-width="1" stroke-dasharray="2.4 1.75" opacity="0.62"/>
<line x1="459.8" y1="157" x2="459.8" y2="653" stroke="#000" stroke-width="1" stroke-dasharray="2.4 1.75" opacity="0.62"/>
<line x1="496.3" y1="157" x2="496.3" y2="653" stroke="#000" stroke-width="1" stroke-dasharray="2.4 1.75" opacity="0.62"/>
<line x1="532.8" y1="157" x2="532.8" y2="653" stroke="#000" stroke-width="1" stroke-dasharray="2.4 1.75" opacity="0.62"/>
<line x1="569.3" y1="157" x2="569.3" y2="653" stroke="#000" stroke-width="1" stroke-dasharray="2.4 1.75" opacity="0.62"/>
<line x1="605.9" y1="157" x2="605.9" y2="653" stroke="#000" stroke-width="1" stroke-dasharray="2.4 1.75" opacity="0.62"/>
<line x1="642.4" y1="157" x2="642.4" y2="653" stroke="#000" stroke-width="1" stroke-dasharray="2.4 1.75" opacity="0.62"/>
<line x1="678.9" y1="157" x2="678.9" y2="653" stroke="#000" stroke-width="1" stroke-dasharray="2.4 1.75" opacity="0.62"/>
<line x1="715.4" y1="157" x2="715.4" y2="653" stroke="#000" stroke-width="1" stroke-dasharray="2.4 1.75" opacity="0.62"/>
<line x1="241" y1="604.3" x2="752" y2="604.3" stroke="#000" stroke-width="1" stroke-dasharray="2.4 1.75" opacity="0.62"/>
<line x1="241" y1="556.1" x2="752" y2="556.1" stroke="#000" stroke-width="1" stroke-dasharray="2.4 1.75" opacity="0.62"/>
<line x1="241" y1="507.5" x2="752" y2="507.5" stroke="#000" stroke-width="1" stroke-dasharray="2.4 1.75" opacity="0.62"/>
<line x1="241" y1="458.6" x2="752" y2="458.6" stroke="#000" stroke-width="1" stroke-dasharray="2.4 1.75" opacity="0.62"/>
<line x1="241" y1="409.3" x2="752" y2="409.3" stroke="#000" stroke-width="1" stroke-dasharray="2.4 1.75" opacity="0.62"/>
<line x1="241" y1="359.5" x2="752" y2="359.5" stroke="#000" stroke-width="1" stroke-dasharray="2.4 1.75" opacity="0.62"/>
<line x1="241" y1="309.4" x2="752" y2="309.4" stroke="#000" stroke-width="1" stroke-dasharray="2.4 1.75" opacity="0.62"/>
<line x1="241" y1="258.9" x2="752" y2="258.9" stroke="#000" stroke-width="1" stroke-dasharray="2.4 1.75" opacity="0.62"/>
<line x1="241" y1="207.9" x2="752" y2="207.9" stroke="#000" stroke-width="1" stroke-dasharray="2.4 1.75" opacity="0.62"/>
<line x1="241" y1="652.2" x2="752" y2="652.2" stroke="#000" stroke-width="1" stroke-dasharray="2.4 1.75" opacity="0.62"/>
<circle cx="535.8" cy="344.4" r="1.1" fill="#6b20fe"/><circle cx="536.0" cy="346.7" r="1.1" fill="#6b20fe"/><circle cx="535.9" cy="345.1" r="1.1" fill="#6b20fe"/><circle cx="534.9" cy="343.2" r="1.1" fill="#6b20fe"/><circle cx="533.4" cy="346.1" r="1.1" fill="#6b20fe"/><circle cx="534.7" cy="345.8" r="1.1" fill="#6b20fe"/><circle cx="535.2" cy="344.0" r="1.1" fill="#6b20fe"/><circle cx="534.4" cy="345.5" r="1.1" fill="#6b20fe"/><circle cx="551.6" cy="330.4" r="1.3" fill="#6628fe"/><circle cx="547.4" cy="323.5" r="1.1" fill="#425efa"/><circle cx="542.9" cy="325.8" r="1.1" fill="#3374f8"/><circle cx="540.8" cy="328.0" r="1.1" fill="#3374f8"/><circle cx="532.5" cy="335.7" r="1.1" fill="#3374f8"/><circle cx="537.1" cy="330.2" r="1.1" fill="#3374f8"/><circle cx="539.3" cy="332.6" r="1.1" fill="#3374f8"/><circle cx="536.4" cy="331.1" r="1.1" fill="#3374f8"/><circle cx="535.9" cy="333.2" r="1.1" fill="#3374f8"/><circle cx="547.4" cy="332.7" r="1.1" fill="#3374f8"/><circle cx="546.3" cy="333.5" r="1.1" fill="#3374f8"/><circle cx="546.4" cy="336.5" r="1.1" fill="#3374f8"/><circle cx="544.6" cy="335.7" r="1.1" fill="#3374f8"/><circle cx="546.4" cy="335.1" r="1.1" fill="#3374f8"/><circle cx="544.4" cy="334.9" r="1.1" fill="#3374f8"/><circle cx="544.5" cy="335.7" r="1.1" fill="#3374f8"/><circle cx="548.5" cy="334.7" r="1.1" fill="#3374f8"/><circle cx="544.3" cy="337.8" r="1.1" fill="#3374f8"/><circle cx="546.0" cy="334.8" r="1.1" fill="#3374f8"/><circle cx="542.6" cy="327.5" r="1.1" fill="#3374f8"/><circle cx="542.6" cy="329.5" r="1.1" fill="#3374f8"/><circle cx="537.0" cy="333.2" r="1.1" fill="#19cee3"/><circle cx="537.0" cy="334.0" r="1.1" fill="#19cee3"/><circle cx="539.2" cy="331.0" r="1.1" fill="#19cee3"/><circle cx="537.0" cy="334.7" r="1.1" fill="#19cee3"/><circle cx="538.3" cy="332.5" r="1.1" fill="#19cee3"/><circle cx="537.8" cy="330.9" r="1.1" fill="#19cee3"/><circle cx="535.4" cy="335.1" r="1.1" fill="#19cee3"/><circle cx="537.9" cy="332.4" r="1.1" fill="#19cee3"/><circle cx="536.2" cy="333.8" r="1.1" fill="#19cee3"/><circle cx="534.0" cy="334.5" r="1.1" fill="#19cee3"/><circle cx="536.1" cy="337.7" r="1.1" fill="#19cee3"/><circle cx="544.5" cy="335.3" r="1.1" fill="#19cee3"/><circle cx="543.4" cy="332.8" r="1.1" fill="#19cee3"/><circle cx="546.4" cy="335.7" r="1.1" fill="#19cee3"/><circle cx="543.3" cy="332.9" r="1.1" fill="#19cee3"/><circle cx="547.1" cy="335.0" r="1.1" fill="#19cee3"/><circle cx="547.1" cy="332.8" r="1.1" fill="#19cee3"/><circle cx="544.4" cy="330.5" r="1.1" fill="#19cee3"/><circle cx="544.8" cy="335.2" r="1.1" fill="#19cee3"/><circle cx="544.5" cy="332.5" r="1.1" fill="#19cee3"/><circle cx="541.3" cy="334.5" r="1.1" fill="#19cee3"/><circle cx="544.8" cy="336.2" r="1.1" fill="#19cee3"/><circle cx="544.2" cy="334.9" r="1.1" fill="#19cee3"/><circle cx="546.6" cy="335.2" r="1.1" fill="#19cee3"/><circle cx="545.7" cy="333.4" r="1.1" fill="#19cee3"/><circle cx="547.3" cy="332.9" r="1.1" fill="#19cee3"/><circle cx="545.3" cy="333.6" r="1.1" fill="#19cee3"/><circle cx="540.9" cy="331.9" r="1.1" fill="#29dbde"/><circle cx="537.5" cy="334.7" r="1.1" fill="#29dbde"/><circle cx="534.8" cy="338.1" r="1.1" fill="#29dbde"/><circle cx="537.9" cy="334.3" r="1.1" fill="#29dbde"/><circle cx="536.8" cy="337.3" r="1.1" fill="#29dbde"/><circle cx="536.7" cy="335.1" r="1.1" fill="#29dbde"/><circle cx="536.1" cy="334.4" r="1.1" fill="#29dbde"/><circle cx="538.0" cy="333.8" r="1.1" fill="#29dbde"/><circle cx="533.8" cy="333.4" r="1.1" fill="#29dbde"/><circle cx="534.8" cy="335.4" r="1.1" fill="#29dbde"/><circle cx="545.7" cy="335.0" r="1.1" fill="#29dbde"/><circle cx="545.6" cy="334.2" r="1.1" fill="#29dbde"/><circle cx="543.9" cy="337.3" r="1.1" fill="#29dbde"/><circle cx="545.4" cy="331.5" r="1.1" fill="#29dbde"/><circle cx="550.1" cy="334.5" r="1.1" fill="#29dbde"/><circle cx="544.3" cy="334.7" r="1.1" fill="#29dbde"/><circle cx="546.7" cy="333.5" r="1.1" fill="#29dbde"/><circle cx="545.2" cy="334.4" r="1.1" fill="#29dbde"/><circle cx="542.1" cy="335.5" r="1.1" fill="#29dbde"/><circle cx="545.1" cy="336.4" r="1.1" fill="#29dbde"/><circle cx="545.5" cy="339.3" r="1.1" fill="#29dbde"/><circle cx="535.6" cy="333.9" r="1.1" fill="#38e7d7"/><circle cx="536.4" cy="334.2" r="1.1" fill="#38e7d7"/><circle cx="534.4" cy="334.0" r="1.1" fill="#38e7d7"/><circle cx="538.0" cy="328.1" r="1.1" fill="#38e7d7"/><circle cx="534.0" cy="340.0" r="1.1" fill="#38e7d7"/><circle cx="537.0" cy="332.0" r="1.1" fill="#38e7d7"/><circle cx="541.4" cy="330.5" r="1.1" fill="#38e7d7"/><circle cx="536.7" cy="333.5" r="1.1" fill="#38e7d7"/><circle cx="538.1" cy="331.9" r="1.1" fill="#38e7d7"/><circle cx="539.5" cy="325.9" r="1.1" fill="#38e7d7"/><circle cx="536.4" cy="333.2" r="1.1" fill="#38e7d7"/><circle cx="537.6" cy="331.7" r="1.1" fill="#38e7d7"/><circle cx="539.7" cy="328.2" r="1.1" fill="#38e7d7"/><circle cx="539.6" cy="328.5" r="1.1" fill="#38e7d7"/><circle cx="537.8" cy="333.3" r="1.1" fill="#38e7d7"/><circle cx="542.8" cy="332.9" r="1.1" fill="#38e7d7"/><circle cx="547.9" cy="335.5" r="1.1" fill="#38e7d7"/><circle cx="546.0" cy="334.7" r="1.1" fill="#38e7d7"/><circle cx="545.7" cy="333.1" r="1.1" fill="#38e7d7"/><circle cx="535.5" cy="338.4" r="1.1" fill="#66fcc2"/><circle cx="535.0" cy="336.9" r="1.1" fill="#66fcc2"/><circle cx="539.5" cy="329.8" r="1.1" fill="#66fcc2"/><circle cx="537.5" cy="331.8" r="1.1" fill="#66fcc2"/><circle cx="537.7" cy="335.3" r="1.1" fill="#66fcc2"/><circle cx="541.3" cy="329.1" r="1.1" fill="#66fcc2"/><circle cx="532.7" cy="339.6" r="1.1" fill="#66fcc2"/><circle cx="538.8" cy="330.0" r="1.1" fill="#66fcc2"/><circle cx="534.8" cy="333.8" r="1.1" fill="#66fcc2"/><circle cx="536.8" cy="334.6" r="1.1" fill="#66fcc2"/><circle cx="539.3" cy="332.3" r="1.1" fill="#66fcc2"/><circle cx="543.9" cy="335.6" r="1.1" fill="#66fcc2"/><circle cx="541.3" cy="336.4" r="1.1" fill="#66fcc2"/><circle cx="542.4" cy="333.0" r="1.1" fill="#66fcc2"/><circle cx="546.5" cy="335.0" r="1.1" fill="#66fcc2"/><circle cx="545.7" cy="336.0" r="1.1" fill="#66fcc2"/><circle cx="546.0" cy="333.7" r="1.1" fill="#66fcc2"/><circle cx="542.7" cy="333.8" r="1.1" fill="#66fcc2"/><circle cx="537.9" cy="330.0" r="1.1" fill="#99fca6"/><circle cx="542.5" cy="326.5" r="1.1" fill="#99fca6"/><circle cx="538.1" cy="331.9" r="1.1" fill="#99fca6"/><circle cx="535.0" cy="333.2" r="1.1" fill="#99fca6"/><circle cx="535.3" cy="334.6" r="1.1" fill="#99fca6"/><circle cx="535.7" cy="335.1" r="1.1" fill="#99fca6"/><circle cx="538.5" cy="329.0" r="1.1" fill="#99fca6"/><circle cx="540.7" cy="327.7" r="1.1" fill="#99fca6"/><circle cx="538.2" cy="333.5" r="1.1" fill="#99fca6"/><circle cx="537.7" cy="331.5" r="1.1" fill="#99fca6"/><circle cx="538.5" cy="333.7" r="1.1" fill="#99fca6"/><circle cx="535.6" cy="335.0" r="1.1" fill="#99fca6"/><circle cx="534.5" cy="337.9" r="1.1" fill="#99fca6"/><circle cx="536.0" cy="337.4" r="1.1" fill="#99fca6"/><circle cx="536.5" cy="333.6" r="1.1" fill="#ff964f"/><circle cx="537.3" cy="330.5" r="1.1" fill="#ff964f"/><circle cx="537.1" cy="333.9" r="1.1" fill="#ff964f"/><circle cx="542.4" cy="325.7" r="1.1" fill="#ff964f"/><circle cx="534.2" cy="337.6" r="1.1" fill="#ff964f"/><circle cx="534.2" cy="340.9" r="1.1" fill="#ff964f"/><circle cx="537.6" cy="336.2" r="1.1" fill="#ff964f"/><circle cx="540.8" cy="330.1" r="1.1" fill="#ff964f"/><circle cx="535.3" cy="335.1" r="1.1" fill="#ff964f"/><circle cx="534.2" cy="336.9" r="1.1" fill="#ff964f"/><circle cx="536.2" cy="332.5" r="1.1" fill="#ff964f"/><circle cx="538.2" cy="331.7" r="1.1" fill="#ff964f"/><circle cx="538.2" cy="333.9" r="1.1" fill="#ff964f"/><circle cx="538.9" cy="336.0" r="1.1" fill="#ff964f"/><circle cx="536.2" cy="336.5" r="1.1" fill="#ff964f"/><circle cx="539.0" cy="331.9" r="1.1" fill="#ff964f"/><circle cx="540.4" cy="327.1" r="1.1" fill="#ff964f"/><circle cx="537.7" cy="330.3" r="1.1" fill="#ff964f"/><circle cx="537.2" cy="332.4" r="1.1" fill="#ff964f"/><circle cx="537.7" cy="329.4" r="1.1" fill="#ff964f"/><circle cx="540.3" cy="329.2" r="1.1" fill="#ff964f"/><circle cx="538.5" cy="332.4" r="1.1" fill="#ff964f"/><circle cx="535.5" cy="335.0" r="1.1" fill="#ff964f"/><circle cx="539.8" cy="334.8" r="1.1" fill="#ff964f"/><circle cx="534.7" cy="337.0" r="1.1" fill="#ff964f"/><circle cx="536.9" cy="335.6" r="1.1" fill="#ff964f"/><circle cx="537.0" cy="334.4" r="1.1" fill="#ff964f"/><circle cx="538.9" cy="332.4" r="1.1" fill="#ff964f"/><circle cx="537.2" cy="334.4" r="1.1" fill="#ff964f"/><circle cx="537.2" cy="333.7" r="1.1" fill="#ff964f"/><circle cx="539.8" cy="329.6" r="1.1" fill="#ff964f"/><circle cx="540.6" cy="329.4" r="1.1" fill="#ff964f"/><circle cx="537.3" cy="331.9" r="1.1" fill="#ff964f"/><circle cx="537.9" cy="331.0" r="1.1" fill="#ff964f"/><circle cx="537.6" cy="337.8" r="1.1" fill="#ff964f"/><circle cx="539.0" cy="328.1" r="1.1" fill="#ff964f"/><circle cx="535.4" cy="335.8" r="1.1" fill="#ff964f"/><circle cx="536.0" cy="334.0" r="1.1" fill="#ff964f"/><circle cx="538.2" cy="330.8" r="1.1" fill="#ff964f"/><circle cx="537.4" cy="335.5" r="1.1" fill="#ff964f"/><circle cx="538.1" cy="331.0" r="1.1" fill="#ff964f"/><circle cx="541.4" cy="330.6" r="1.1" fill="#ff964f"/><circle cx="537.9" cy="334.4" r="1.1" fill="#ff964f"/><circle cx="533.7" cy="339.8" r="1.1" fill="#ff964f"/><circle cx="539.0" cy="330.6" r="1.1" fill="#ff964f"/><circle cx="537.6" cy="333.2" r="1.1" fill="#ff964f"/><circle cx="536.9" cy="333.4" r="1.1" fill="#ff964f"/><circle cx="539.8" cy="331.7" r="1.1" fill="#ff964f"/><circle cx="536.0" cy="338.9" r="1.1" fill="#ff964f"/><circle cx="539.3" cy="327.3" r="1.1" fill="#ff964f"/><circle cx="540.1" cy="330.4" r="1.1" fill="#ff964f"/><circle cx="535.3" cy="339.3" r="1.1" fill="#ff964f"/><circle cx="536.2" cy="335.9" r="1.1" fill="#ff964f"/><circle cx="538.5" cy="334.7" r="1.1" fill="#ff964f"/><circle cx="536.8" cy="331.1" r="1.1" fill="#ff964f"/><circle cx="536.3" cy="335.5" r="1.1" fill="#ff964f"/><circle cx="535.4" cy="335.9" r="1.1" fill="#ff964f"/><circle cx="535.2" cy="335.1" r="1.1" fill="#ff964f"/><circle cx="539.1" cy="334.8" r="1.1" fill="#ff964f"/><circle cx="538.4" cy="331.4" r="1.1" fill="#ff964f"/><circle cx="534.7" cy="336.6" r="1.1" fill="#ff964f"/><circle cx="538.8" cy="333.1" r="1.1" fill="#ff964f"/><circle cx="538.7" cy="333.0" r="1.1" fill="#ff964f"/><circle cx="537.6" cy="334.1" r="1.1" fill="#ff964f"/><circle cx="540.0" cy="330.6" r="1.1" fill="#ff964f"/><circle cx="533.7" cy="334.1" r="1.1" fill="#ff964f"/><circle cx="535.8" cy="335.9" r="1.1" fill="#ff964f"/><circle cx="541.7" cy="327.3" r="1.1" fill="#ff964f"/><circle cx="534.5" cy="333.9" r="1.1" fill="#ff964f"/><circle cx="536.4" cy="335.2" r="1.1" fill="#ff964f"/><circle cx="538.0" cy="332.4" r="1.1" fill="#ff964f"/><circle cx="536.6" cy="335.9" r="1.1" fill="#ff964f"/><circle cx="536.6" cy="335.4" r="1.1" fill="#ff964f"/><circle cx="536.4" cy="334.3" r="1.1" fill="#ff964f"/><circle cx="541.5" cy="328.2" r="1.1" fill="#ff964f"/><circle cx="534.9" cy="334.3" r="1.1" fill="#ff964f"/><circle cx="534.8" cy="335.8" r="1.1" fill="#ff964f"/><circle cx="538.4" cy="333.0" r="1.1" fill="#ff964f"/><circle cx="538.2" cy="331.4" r="1.1" fill="#ff964f"/><circle cx="533.2" cy="334.1" r="1.1" fill="#ff964f"/><circle cx="538.8" cy="331.3" r="1.1" fill="#ff964f"/><circle cx="534.8" cy="336.7" r="1.1" fill="#ff964f"/><circle cx="544.0" cy="333.1" r="1.1" fill="#ff964f"/><circle cx="546.3" cy="332.6" r="1.1" fill="#ff964f"/><circle cx="546.1" cy="331.6" r="1.1" fill="#ff964f"/><circle cx="543.2" cy="334.7" r="1.1" fill="#ff964f"/><circle cx="546.1" cy="336.8" r="1.1" fill="#ff964f"/><circle cx="545.1" cy="334.7" r="1.1" fill="#ff964f"/><circle cx="542.5" cy="335.2" r="1.1" fill="#ff964f"/><circle cx="547.3" cy="333.4" r="1.1" fill="#ff964f"/><circle cx="544.4" cy="332.4" r="1.1" fill="#ff964f"/><circle cx="545.9" cy="334.6" r="1.1" fill="#ff964f"/><circle cx="544.4" cy="333.6" r="1.1" fill="#ff964f"/><circle cx="543.5" cy="329.8" r="1.1" fill="#ff964f"/><circle cx="549.0" cy="336.3" r="1.1" fill="#ff964f"/><circle cx="543.7" cy="335.2" r="1.1" fill="#ff964f"/><circle cx="546.5" cy="333.5" r="1.1" fill="#ff964f"/><circle cx="541.8" cy="331.6" r="1.1" fill="#ff964f"/><circle cx="546.1" cy="334.5" r="1.1" fill="#ff964f"/><circle cx="544.4" cy="333.6" r="1.1" fill="#ff964f"/><circle cx="547.8" cy="334.3" r="1.1" fill="#ff964f"/><circle cx="543.2" cy="336.6" r="1.1" fill="#ff964f"/><circle cx="545.4" cy="338.3" r="1.1" fill="#ff964f"/><circle cx="546.7" cy="335.6" r="1.1" fill="#ff964f"/><circle cx="545.0" cy="330.5" r="1.1" fill="#ff964f"/><circle cx="544.0" cy="333.6" r="1.1" fill="#ff964f"/><circle cx="546.5" cy="332.6" r="1.1" fill="#ff964f"/><circle cx="548.0" cy="337.8" r="1.1" fill="#ff964f"/><circle cx="545.3" cy="336.2" r="1.1" fill="#ff964f"/><circle cx="544.7" cy="334.2" r="1.1" fill="#ff964f"/><circle cx="547.1" cy="334.0" r="1.1" fill="#ff964f"/><circle cx="544.7" cy="334.3" r="1.1" fill="#ff964f"/><circle cx="545.6" cy="332.5" r="1.1" fill="#ff964f"/><circle cx="545.6" cy="333.7" r="1.1" fill="#ff964f"/><circle cx="544.4" cy="335.0" r="1.1" fill="#ff964f"/><circle cx="548.1" cy="332.2" r="1.1" fill="#ff964f"/><circle cx="543.5" cy="334.8" r="1.1" fill="#ff964f"/><circle cx="543.7" cy="336.1" r="1.1" fill="#ff964f"/><circle cx="545.6" cy="333.6" r="1.1" fill="#ff964f"/><circle cx="544.4" cy="333.0" r="1.1" fill="#ff964f"/><circle cx="544.1" cy="337.8" r="1.1" fill="#ff964f"/><circle cx="545.5" cy="336.8" r="1.1" fill="#ff964f"/><circle cx="546.5" cy="334.4" r="1.1" fill="#ff964f"/><circle cx="545.0" cy="333.1" r="1.1" fill="#ff964f"/><circle cx="545.7" cy="332.2" r="1.1" fill="#ff964f"/>
<circle cx="362.5" cy="483.5" r="1.4" fill="#80ffa8"/><circle cx="364.3" cy="482" r="1.4" fill="#80ffa8"/><circle cx="361" cy="485" r="1.2" fill="#80ffa8"/><circle cx="365" cy="483.5" r="1.1" fill="#80ffa8"/>
<polygon points="559.4,355.1 560.7,358.2 564.1,358.5 561.5,360.7 562.3,364.0 559.4,362.2 556.5,364.0 557.3,360.7 554.7,358.5 558.1,358.2" fill="#ffff00" stroke="#008000" stroke-width="1.1" stroke-linejoin="miter"/>
<polygon points="512.2,397.1 513.5,400.2 516.9,400.5 514.3,402.7 515.1,406.0 512.2,404.2 509.3,406.0 510.1,402.7 507.5,400.5 510.9,400.2" fill="#ffff00" stroke="#008000" stroke-width="1.1" stroke-linejoin="miter"/>
<polygon points="534.4,400.1 535.7,403.2 539.1,403.5 536.5,405.7 537.3,409.0 534.4,407.2 531.5,409.0 532.3,405.7 529.7,403.5 533.1,403.2" fill="#ffff00" stroke="#008000" stroke-width="1.1" stroke-linejoin="miter"/>
<polygon points="568.2,395.3 569.5,398.4 572.9,398.7 570.3,400.9 571.1,404.2 568.2,402.4 565.3,404.2 566.1,400.9 563.5,398.7 566.9,398.4" fill="#ffff00" stroke="#008000" stroke-width="1.1" stroke-linejoin="miter"/>
<polygon points="557.4,410.3 558.7,413.4 562.1,413.7 559.5,415.9 560.3,419.2 557.4,417.4 554.5,419.2 555.3,415.9 552.7,413.7 556.1,413.4" fill="#ffff00" stroke="#008000" stroke-width="1.1" stroke-linejoin="miter"/>
<polygon points="540.4,421.6 541.7,424.7 545.1,425.0 542.5,427.2 543.3,430.5 540.4,428.7 537.5,430.5 538.3,427.2 535.7,425.0 539.1,424.7" fill="#ffff00" stroke="#008000" stroke-width="1.1" stroke-linejoin="miter"/>
<polygon points="508.5,431.5 509.8,434.6 513.2,434.9 510.6,437.1 511.4,440.4 508.5,438.6 505.6,440.4 506.4,437.1 503.8,434.9 507.2,434.6" fill="#ffff00" stroke="#008000" stroke-width="1.1" stroke-linejoin="miter"/>
<polygon points="573.5,442.4 574.8,445.5 578.2,445.8 575.6,448.0 576.4,451.3 573.5,449.5 570.6,451.3 571.4,448.0 568.8,445.8 572.2,445.5" fill="#ffff00" stroke="#008000" stroke-width="1.1" stroke-linejoin="miter"/>
<polygon points="537.1,450.2 538.4,453.3 541.8,453.6 539.2,455.8 540.0,459.1 537.1,457.3 534.2,459.1 535.0,455.8 532.4,453.6 535.8,453.3" fill="#ffff00" stroke="#008000" stroke-width="1.1" stroke-linejoin="miter"/>
<polygon points="510.2,453.5 511.5,456.6 514.9,456.9 512.3,459.1 513.1,462.4 510.2,460.6 507.3,462.4 508.1,459.1 505.5,456.9 508.9,456.6" fill="#ffff00" stroke="#008000" stroke-width="1.1" stroke-linejoin="miter"/>
<polygon points="546.3,468.2 547.6,471.3 551.0,471.6 548.4,473.8 549.2,477.1 546.3,475.3 543.4,477.1 544.2,473.8 541.6,471.6 545.0,471.3" fill="#ffff00" stroke="#008000" stroke-width="1.1" stroke-linejoin="miter"/>
<polygon points="546.6,515.4 547.9,518.5 551.3,518.8 548.7,521.0 549.5,524.3 546.6,522.5 543.7,524.3 544.5,521.0 541.9,518.8 545.3,518.5" fill="#ffff00" stroke="#008000" stroke-width="1.1" stroke-linejoin="miter"/>
</g>
<g clip-path="url(#tc)">
<line x1="242" y1="87.6" x2="752" y2="87.6" stroke="#707070" stroke-width="1"/>
<line x1="242" y1="122.4" x2="752" y2="122.4" stroke="#707070" stroke-width="1"/>
<circle cx="536.3" cy="116.4" r="1.1" fill="#6628fe"/><circle cx="535.6" cy="123.7" r="1.1" fill="#6628fe"/><circle cx="538.9" cy="121.1" r="1.1" fill="#6628fe"/><circle cx="538.5" cy="114.9" r="1.1" fill="#6628fe"/><circle cx="538.2" cy="108.2" r="1.1" fill="#6628fe"/><circle cx="537.6" cy="104.8" r="1.1" fill="#6628fe"/><circle cx="538.5" cy="111.7" r="1.1" fill="#6628fe"/><circle cx="544.9" cy="124.0" r="1.1" fill="#6628fe"/><circle cx="548.4" cy="126.7" r="1.1" fill="#6628fe"/><circle cx="546.0" cy="116.0" r="1.1" fill="#6628fe"/><circle cx="544.1" cy="114.3" r="1.1" fill="#6628fe"/><circle cx="537.3" cy="79.4" r="1.0" fill="#6628fe"/><circle cx="541.7" cy="79.9" r="1.0" fill="#6628fe"/><circle cx="538.5" cy="104.1" r="1.0" fill="#6628fe"/><circle cx="537.2" cy="99.1" r="1.0" fill="#6628fe"/><circle cx="542.4" cy="133.2" r="1.1" fill="#6628fe"/><circle cx="534.0" cy="132.8" r="1.1" fill="#6628fe"/><circle cx="541.0" cy="131.9" r="1.1" fill="#6628fe"/><circle cx="542.1" cy="132.8" r="1.1" fill="#6628fe"/><circle cx="540.4" cy="129.3" r="1.1" fill="#6628fe"/><circle cx="542.2" cy="128.4" r="1.1" fill="#6628fe"/><circle cx="534.8" cy="129.6" r="1.1" fill="#6628fe"/><circle cx="539.3" cy="132.1" r="1.1" fill="#6628fe"/><circle cx="535.6" cy="110.9" r="1.1" fill="#573ffd"/><circle cx="535.6" cy="132.0" r="1.1" fill="#573ffd"/><circle cx="547.4" cy="124.6" r="1.1" fill="#573ffd"/><circle cx="545.6" cy="110.7" r="1.1" fill="#573ffd"/><circle cx="544.1" cy="117.9" r="1.1" fill="#573ffd"/><circle cx="540.8" cy="86.5" r="1.0" fill="#573ffd"/><circle cx="540.8" cy="92.4" r="1.0" fill="#573ffd"/><circle cx="536.6" cy="127.4" r="1.1" fill="#3374f8"/><circle cx="535.6" cy="119.5" r="1.1" fill="#3374f8"/><circle cx="535.8" cy="105.5" r="1.1" fill="#3374f8"/><circle cx="537.8" cy="123.9" r="1.1" fill="#3374f8"/><circle cx="534.8" cy="109.3" r="1.1" fill="#3374f8"/><circle cx="545.8" cy="121.5" r="1.1" fill="#3374f8"/><circle cx="545.0" cy="128.2" r="1.1" fill="#3374f8"/><circle cx="546.3" cy="127.1" r="1.1" fill="#3374f8"/><circle cx="546.8" cy="130.9" r="1.1" fill="#3374f8"/><circle cx="538.0" cy="90.3" r="1.0" fill="#3374f8"/><circle cx="534.5" cy="93.9" r="1.0" fill="#3374f8"/><circle cx="536.9" cy="90.2" r="1.0" fill="#3374f8"/><circle cx="538.4" cy="80.3" r="1.0" fill="#3374f8"/><circle cx="538.4" cy="96.5" r="1.0" fill="#3374f8"/><circle cx="538.5" cy="87.4" r="1.0" fill="#3374f8"/><circle cx="539.4" cy="100.0" r="1.0" fill="#3374f8"/><circle cx="537.8" cy="105.7" r="1.0" fill="#3374f8"/><circle cx="538.2" cy="95.3" r="1.0" fill="#3374f8"/><circle cx="535.9" cy="111.9" r="1.1" fill="#1996f3"/><circle cx="535.0" cy="121.4" r="1.1" fill="#1996f3"/><circle cx="547.1" cy="130.6" r="1.1" fill="#1996f3"/><circle cx="545.9" cy="125.6" r="1.1" fill="#1996f3"/><circle cx="543.7" cy="110.8" r="1.1" fill="#1996f3"/><circle cx="538.5" cy="103.6" r="1.0" fill="#1996f3"/><circle cx="540.2" cy="126.6" r="1.1" fill="#19cee3"/><circle cx="533.4" cy="107.1" r="1.1" fill="#19cee3"/><circle cx="534.0" cy="131.9" r="1.1" fill="#19cee3"/><circle cx="537.0" cy="124.3" r="1.1" fill="#19cee3"/><circle cx="533.3" cy="121.3" r="1.1" fill="#19cee3"/><circle cx="536.5" cy="110.8" r="1.1" fill="#19cee3"/><circle cx="537.9" cy="111.5" r="1.1" fill="#19cee3"/><circle cx="534.8" cy="117.1" r="1.1" fill="#19cee3"/><circle cx="546.3" cy="118.0" r="1.1" fill="#19cee3"/><circle cx="544.7" cy="122.9" r="1.1" fill="#19cee3"/><circle cx="546.2" cy="122.2" r="1.1" fill="#19cee3"/><circle cx="545.0" cy="119.7" r="1.1" fill="#19cee3"/><circle cx="536.6" cy="99.9" r="1.0" fill="#19cee3"/><circle cx="537.3" cy="87.5" r="1.0" fill="#19cee3"/><circle cx="535.5" cy="83.9" r="1.0" fill="#19cee3"/><circle cx="536.9" cy="87.6" r="1.0" fill="#19cee3"/><circle cx="535.2" cy="112.1" r="1.1" fill="#29dbde"/><circle cx="537.4" cy="113.8" r="1.1" fill="#29dbde"/><circle cx="537.1" cy="111.8" r="1.1" fill="#29dbde"/><circle cx="538.9" cy="127.0" r="1.1" fill="#29dbde"/><circle cx="546.3" cy="120.9" r="1.1" fill="#29dbde"/><circle cx="545.5" cy="120.9" r="1.1" fill="#29dbde"/><circle cx="544.3" cy="120.2" r="1.1" fill="#29dbde"/><circle cx="546.7" cy="127.4" r="1.1" fill="#29dbde"/><circle cx="546.9" cy="128.3" r="1.1" fill="#29dbde"/><circle cx="545.6" cy="118.2" r="1.1" fill="#29dbde"/><circle cx="546.7" cy="113.9" r="1.1" fill="#29dbde"/><circle cx="544.8" cy="125.6" r="1.1" fill="#29dbde"/><circle cx="544.3" cy="116.7" r="1.1" fill="#29dbde"/><circle cx="544.2" cy="124.6" r="1.1" fill="#29dbde"/><circle cx="537.9" cy="104.7" r="1.0" fill="#29dbde"/><circle cx="538.5" cy="104.9" r="1.0" fill="#29dbde"/><circle cx="537.5" cy="81.8" r="1.0" fill="#29dbde"/><circle cx="540.3" cy="84.8" r="1.0" fill="#29dbde"/><circle cx="537.9" cy="105.5" r="1.0" fill="#29dbde"/><circle cx="536.4" cy="117.7" r="1.1" fill="#38e7d7"/><circle cx="537.6" cy="128.8" r="1.1" fill="#38e7d7"/><circle cx="537.9" cy="105.2" r="1.1" fill="#38e7d7"/><circle cx="536.0" cy="114.9" r="1.1" fill="#38e7d7"/><circle cx="538.0" cy="111.7" r="1.1" fill="#38e7d7"/><circle cx="535.4" cy="127.2" r="1.1" fill="#38e7d7"/><circle cx="535.8" cy="126.6" r="1.1" fill="#38e7d7"/><circle cx="537.5" cy="118.1" r="1.1" fill="#38e7d7"/><circle cx="544.7" cy="115.9" r="1.1" fill="#38e7d7"/><circle cx="537.9" cy="105.8" r="1.0" fill="#38e7d7"/><circle cx="542.5" cy="97.6" r="1.0" fill="#38e7d7"/><circle cx="542.4" cy="102.6" r="1.0" fill="#38e7d7"/><circle cx="536.6" cy="121.6" r="1.1" fill="#66fcc2"/><circle cx="534.0" cy="115.5" r="1.1" fill="#66fcc2"/><circle cx="536.3" cy="122.9" r="1.1" fill="#66fcc2"/><circle cx="543.0" cy="124.3" r="1.1" fill="#66fcc2"/><circle cx="546.8" cy="129.5" r="1.1" fill="#66fcc2"/><circle cx="536.1" cy="91.2" r="1.0" fill="#66fcc2"/><circle cx="537.4" cy="80.2" r="1.0" fill="#66fcc2"/><circle cx="540.0" cy="82.8" r="1.0" fill="#66fcc2"/><circle cx="535.0" cy="79.9" r="1.0" fill="#66fcc2"/><circle cx="540.7" cy="104.4" r="1.0" fill="#66fcc2"/><circle cx="538.2" cy="122.5" r="1.1" fill="#99fca6"/><circle cx="535.4" cy="122.7" r="1.1" fill="#99fca6"/><circle cx="537.3" cy="117.8" r="1.1" fill="#99fca6"/><circle cx="535.9" cy="125.6" r="1.1" fill="#99fca6"/><circle cx="538.1" cy="107.6" r="1.1" fill="#99fca6"/><circle cx="538.3" cy="107.8" r="1.1" fill="#99fca6"/><circle cx="539.0" cy="117.5" r="1.1" fill="#99fca6"/><circle cx="538.3" cy="124.0" r="1.1" fill="#99fca6"/><circle cx="538.3" cy="106.8" r="1.1" fill="#99fca6"/><circle cx="537.3" cy="128.2" r="1.1" fill="#99fca6"/><circle cx="536.5" cy="119.2" r="1.1" fill="#99fca6"/><circle cx="546.0" cy="115.9" r="1.1" fill="#99fca6"/><circle cx="535.1" cy="100.4" r="1.0" fill="#99fca6"/><circle cx="538.1" cy="91.6" r="1.0" fill="#99fca6"/><circle cx="537.6" cy="91.5" r="1.0" fill="#99fca6"/><circle cx="537.5" cy="111.5" r="1.1" fill="#ff964f"/><circle cx="541.9" cy="128.3" r="1.1" fill="#ff964f"/><circle cx="538.7" cy="115.3" r="1.1" fill="#ff964f"/><circle cx="539.0" cy="126.5" r="1.1" fill="#ff964f"/><circle cx="538.0" cy="132.0" r="1.1" fill="#ff964f"/><circle cx="538.1" cy="118.4" r="1.1" fill="#ff964f"/><circle cx="537.5" cy="123.5" r="1.1" fill="#ff964f"/><circle cx="534.1" cy="128.2" r="1.1" fill="#ff964f"/><circle cx="536.1" cy="119.5" r="1.1" fill="#ff964f"/><circle cx="537.6" cy="130.6" r="1.1" fill="#ff964f"/><circle cx="537.7" cy="124.7" r="1.1" fill="#ff964f"/><circle cx="539.7" cy="112.3" r="1.1" fill="#ff964f"/><circle cx="537.0" cy="130.0" r="1.1" fill="#ff964f"/><circle cx="537.4" cy="115.0" r="1.1" fill="#ff964f"/><circle cx="538.1" cy="120.0" r="1.1" fill="#ff964f"/><circle cx="536.4" cy="105.0" r="1.1" fill="#ff964f"/><circle cx="536.2" cy="121.7" r="1.1" fill="#ff964f"/><circle cx="535.9" cy="131.2" r="1.1" fill="#ff964f"/><circle cx="535.4" cy="104.6" r="1.1" fill="#ff964f"/><circle cx="535.6" cy="122.2" r="1.1" fill="#ff964f"/><circle cx="537.0" cy="131.9" r="1.1" fill="#ff964f"/><circle cx="538.7" cy="113.3" r="1.1" fill="#ff964f"/><circle cx="535.6" cy="113.1" r="1.1" fill="#ff964f"/><circle cx="536.7" cy="132.2" r="1.1" fill="#ff964f"/><circle cx="536.3" cy="123.0" r="1.1" fill="#ff964f"/><circle cx="536.1" cy="113.5" r="1.1" fill="#ff964f"/><circle cx="537.6" cy="116.7" r="1.1" fill="#ff964f"/><circle cx="535.5" cy="129.0" r="1.1" fill="#ff964f"/><circle cx="539.4" cy="122.0" r="1.1" fill="#ff964f"/><circle cx="534.1" cy="116.2" r="1.1" fill="#ff964f"/><circle cx="536.7" cy="122.4" r="1.1" fill="#ff964f"/><circle cx="538.5" cy="120.5" r="1.1" fill="#ff964f"/><circle cx="540.3" cy="116.6" r="1.1" fill="#ff964f"/><circle cx="536.1" cy="107.5" r="1.1" fill="#ff964f"/><circle cx="537.6" cy="105.0" r="1.1" fill="#ff964f"/><circle cx="535.3" cy="129.6" r="1.1" fill="#ff964f"/><circle cx="536.2" cy="105.4" r="1.1" fill="#ff964f"/><circle cx="537.1" cy="110.9" r="1.1" fill="#ff964f"/><circle cx="540.1" cy="119.6" r="1.1" fill="#ff964f"/><circle cx="537.3" cy="117.8" r="1.1" fill="#ff964f"/><circle cx="536.5" cy="110.9" r="1.1" fill="#ff964f"/><circle cx="540.1" cy="130.7" r="1.1" fill="#ff964f"/><circle cx="535.0" cy="120.6" r="1.1" fill="#ff964f"/><circle cx="538.5" cy="121.9" r="1.1" fill="#ff964f"/><circle cx="539.5" cy="105.3" r="1.1" fill="#ff964f"/><circle cx="539.3" cy="118.0" r="1.1" fill="#ff964f"/><circle cx="537.5" cy="118.2" r="1.1" fill="#ff964f"/><circle cx="535.9" cy="106.1" r="1.1" fill="#ff964f"/><circle cx="534.8" cy="107.6" r="1.1" fill="#ff964f"/><circle cx="536.2" cy="106.3" r="1.1" fill="#ff964f"/><circle cx="534.9" cy="114.8" r="1.1" fill="#ff964f"/><circle cx="535.2" cy="105.5" r="1.1" fill="#ff964f"/><circle cx="535.2" cy="131.6" r="1.1" fill="#ff964f"/><circle cx="537.2" cy="104.5" r="1.1" fill="#ff964f"/><circle cx="538.2" cy="127.3" r="1.1" fill="#ff964f"/><circle cx="537.2" cy="126.9" r="1.1" fill="#ff964f"/><circle cx="538.6" cy="120.4" r="1.1" fill="#ff964f"/><circle cx="535.0" cy="119.3" r="1.1" fill="#ff964f"/><circle cx="536.1" cy="127.8" r="1.1" fill="#ff964f"/><circle cx="537.7" cy="128.7" r="1.1" fill="#ff964f"/><circle cx="537.1" cy="124.2" r="1.1" fill="#ff964f"/><circle cx="541.3" cy="112.7" r="1.1" fill="#ff964f"/><circle cx="539.7" cy="119.3" r="1.1" fill="#ff964f"/><circle cx="538.5" cy="120.1" r="1.1" fill="#ff964f"/><circle cx="538.1" cy="129.2" r="1.1" fill="#ff964f"/><circle cx="539.2" cy="106.2" r="1.1" fill="#ff964f"/><circle cx="535.9" cy="114.7" r="1.1" fill="#ff964f"/><circle cx="537.8" cy="106.4" r="1.1" fill="#ff964f"/><circle cx="534.9" cy="132.2" r="1.1" fill="#ff964f"/><circle cx="534.5" cy="131.6" r="1.1" fill="#ff964f"/><circle cx="535.5" cy="125.8" r="1.1" fill="#ff964f"/><circle cx="539.7" cy="119.0" r="1.1" fill="#ff964f"/><circle cx="534.8" cy="104.7" r="1.1" fill="#ff964f"/><circle cx="537.7" cy="115.1" r="1.1" fill="#ff964f"/><circle cx="538.3" cy="126.5" r="1.1" fill="#ff964f"/><circle cx="535.0" cy="132.7" r="1.1" fill="#ff964f"/><circle cx="537.0" cy="117.6" r="1.1" fill="#ff964f"/><circle cx="534.8" cy="111.0" r="1.1" fill="#ff964f"/><circle cx="539.2" cy="108.9" r="1.1" fill="#ff964f"/><circle cx="539.3" cy="109.3" r="1.1" fill="#ff964f"/><circle cx="535.0" cy="114.3" r="1.1" fill="#ff964f"/><circle cx="535.9" cy="113.7" r="1.1" fill="#ff964f"/><circle cx="538.9" cy="107.6" r="1.1" fill="#ff964f"/><circle cx="538.4" cy="129.6" r="1.1" fill="#ff964f"/><circle cx="537.7" cy="119.3" r="1.1" fill="#ff964f"/><circle cx="536.3" cy="119.3" r="1.1" fill="#ff964f"/><circle cx="538.3" cy="107.1" r="1.1" fill="#ff964f"/><circle cx="536.5" cy="114.2" r="1.1" fill="#ff964f"/><circle cx="538.7" cy="109.2" r="1.1" fill="#ff964f"/><circle cx="535.6" cy="131.0" r="1.1" fill="#ff964f"/><circle cx="545.5" cy="116.3" r="1.1" fill="#ff964f"/><circle cx="543.9" cy="123.2" r="1.1" fill="#ff964f"/><circle cx="545.7" cy="111.2" r="1.1" fill="#ff964f"/><circle cx="546.3" cy="119.5" r="1.1" fill="#ff964f"/><circle cx="546.6" cy="120.0" r="1.1" fill="#ff964f"/><circle cx="545.8" cy="124.0" r="1.1" fill="#ff964f"/><circle cx="547.5" cy="129.0" r="1.1" fill="#ff964f"/><circle cx="547.2" cy="123.7" r="1.1" fill="#ff964f"/><circle cx="547.2" cy="121.0" r="1.1" fill="#ff964f"/><circle cx="546.7" cy="112.9" r="1.1" fill="#ff964f"/><circle cx="544.8" cy="127.5" r="1.1" fill="#ff964f"/><circle cx="545.6" cy="128.7" r="1.1" fill="#ff964f"/><circle cx="545.5" cy="122.9" r="1.1" fill="#ff964f"/><circle cx="546.7" cy="113.3" r="1.1" fill="#ff964f"/><circle cx="543.8" cy="109.8" r="1.1" fill="#ff964f"/><circle cx="546.3" cy="112.0" r="1.1" fill="#ff964f"/><circle cx="543.9" cy="116.9" r="1.1" fill="#ff964f"/><circle cx="542.7" cy="110.7" r="1.1" fill="#ff964f"/><circle cx="547.1" cy="110.8" r="1.1" fill="#ff964f"/><circle cx="546.1" cy="110.7" r="1.1" fill="#ff964f"/><circle cx="546.6" cy="124.4" r="1.1" fill="#ff964f"/><circle cx="545.1" cy="118.3" r="1.1" fill="#ff964f"/><circle cx="544.8" cy="125.7" r="1.1" fill="#ff964f"/><circle cx="547.6" cy="113.0" r="1.1" fill="#ff964f"/><circle cx="544.5" cy="117.2" r="1.1" fill="#ff964f"/><circle cx="545.8" cy="122.1" r="1.1" fill="#ff964f"/><circle cx="545.9" cy="126.2" r="1.1" fill="#ff964f"/><circle cx="546.1" cy="119.1" r="1.1" fill="#ff964f"/><circle cx="546.7" cy="117.9" r="1.1" fill="#ff964f"/><circle cx="546.5" cy="109.6" r="1.1" fill="#ff964f"/><circle cx="546.3" cy="110.3" r="1.1" fill="#ff964f"/><circle cx="544.0" cy="118.9" r="1.1" fill="#ff964f"/><circle cx="547.0" cy="117.9" r="1.1" fill="#ff964f"/><circle cx="546.8" cy="109.6" r="1.1" fill="#ff964f"/><circle cx="545.6" cy="119.4" r="1.1" fill="#ff964f"/><circle cx="545.4" cy="122.7" r="1.1" fill="#ff964f"/><circle cx="546.4" cy="125.0" r="1.1" fill="#ff964f"/><circle cx="542.6" cy="126.3" r="1.1" fill="#ff964f"/><circle cx="546.5" cy="114.5" r="1.1" fill="#ff964f"/><circle cx="544.9" cy="126.9" r="1.1" fill="#ff964f"/><circle cx="545.7" cy="111.3" r="1.1" fill="#ff964f"/><circle cx="545.6" cy="119.6" r="1.1" fill="#ff964f"/><circle cx="545.8" cy="117.4" r="1.1" fill="#ff964f"/><circle cx="543.8" cy="129.8" r="1.1" fill="#ff964f"/><circle cx="544.0" cy="118.1" r="1.1" fill="#ff964f"/><circle cx="545.7" cy="126.1" r="1.1" fill="#ff964f"/><circle cx="544.8" cy="129.3" r="1.1" fill="#ff964f"/><circle cx="546.1" cy="118.1" r="1.1" fill="#ff964f"/><circle cx="548.2" cy="114.9" r="1.1" fill="#ff964f"/><circle cx="544.1" cy="124.9" r="1.1" fill="#ff964f"/><circle cx="544.4" cy="119.7" r="1.1" fill="#ff964f"/><circle cx="544.7" cy="130.9" r="1.1" fill="#ff964f"/><circle cx="546.5" cy="113.3" r="1.1" fill="#ff964f"/><circle cx="542.8" cy="115.8" r="1.1" fill="#ff964f"/><circle cx="547.9" cy="121.9" r="1.1" fill="#ff964f"/><circle cx="546.8" cy="114.1" r="1.1" fill="#ff964f"/><circle cx="544.9" cy="126.4" r="1.1" fill="#ff964f"/><circle cx="545.3" cy="110.9" r="1.1" fill="#ff964f"/><circle cx="547.2" cy="115.4" r="1.1" fill="#ff964f"/><circle cx="545.3" cy="111.6" r="1.1" fill="#ff964f"/><circle cx="545.0" cy="115.6" r="1.1" fill="#ff964f"/><circle cx="544.7" cy="118.3" r="1.1" fill="#ff964f"/><circle cx="544.8" cy="114.2" r="1.1" fill="#ff964f"/><circle cx="546.2" cy="125.5" r="1.1" fill="#ff964f"/><circle cx="547.4" cy="113.8" r="1.1" fill="#ff964f"/><circle cx="548.6" cy="129.9" r="1.1" fill="#ff964f"/><circle cx="543.8" cy="126.0" r="1.1" fill="#ff964f"/><circle cx="545.2" cy="128.6" r="1.1" fill="#ff964f"/><circle cx="545.3" cy="112.3" r="1.1" fill="#ff964f"/><circle cx="545.8" cy="113.3" r="1.1" fill="#ff964f"/><circle cx="547.3" cy="119.8" r="1.1" fill="#ff964f"/><circle cx="546.2" cy="126.2" r="1.1" fill="#ff964f"/><circle cx="547.1" cy="118.8" r="1.1" fill="#ff964f"/><circle cx="548.6" cy="130.5" r="1.1" fill="#ff964f"/><circle cx="545.4" cy="112.5" r="1.1" fill="#ff964f"/><circle cx="544.1" cy="119.2" r="1.1" fill="#ff964f"/><circle cx="545.5" cy="127.8" r="1.1" fill="#ff964f"/><circle cx="547.7" cy="119.2" r="1.1" fill="#ff964f"/><circle cx="537.3" cy="79.1" r="1.0" fill="#ff964f"/><circle cx="538.2" cy="84.3" r="1.0" fill="#ff964f"/><circle cx="538.9" cy="90.2" r="1.0" fill="#ff964f"/><circle cx="538.9" cy="89.4" r="1.0" fill="#ff964f"/>
<circle cx="545.4" cy="63.2" r="1" fill="#f99250"/><circle cx="547.3" cy="70.3" r="1.1" fill="#4040ff"/><circle cx="537.7" cy="136" r="1" fill="#80ffa8"/><circle cx="548.4" cy="137.2" r="1" fill="#80ffa8"/>
<circle cx="361" cy="101" r="1.1" fill="#80ffa8"/><circle cx="363.5" cy="104" r="1.5" fill="#80ffa8"/><circle cx="364.5" cy="107" r="1.1" fill="#80ffa8"/><circle cx="365" cy="112" r="1.3" fill="#80ffa8"/><circle cx="363" cy="110" r="1.1" fill="#80ffa8"/><circle cx="363" cy="118" r="1.3" fill="#80ffa8"/><circle cx="362.5" cy="126" r="1" fill="#80ffa8"/>
</g>
<g clip-path="url(#rc)">
<line x1="789.5" y1="157" x2="789.5" y2="653" stroke="#606060" stroke-width="1"/>
<line x1="825.5" y1="157" x2="825.5" y2="653" stroke="#606060" stroke-width="1"/>
<circle cx="783.1" cy="344.6" r="1.2" fill="#6b20fe"/><circle cx="787.7" cy="344.1" r="1.2" fill="#6b20fe"/><circle cx="782.6" cy="343.5" r="1.2" fill="#6b20fe"/><circle cx="783.0" cy="342.9" r="1.2" fill="#6b20fe"/><circle cx="787.8" cy="343.2" r="1.2" fill="#6b20fe"/><circle cx="784.5" cy="346.8" r="1.2" fill="#6b20fe"/><circle cx="787.1" cy="344.4" r="1.2" fill="#6b20fe"/><circle cx="783.2" cy="344.5" r="1.2" fill="#6b20fe"/><circle cx="797.2" cy="333.8" r="1.2" fill="#6628fe"/><circle cx="784.7" cy="333.9" r="1.2" fill="#6628fe"/><circle cx="791.0" cy="334.8" r="1.2" fill="#6628fe"/><circle cx="788.7" cy="336.3" r="1.2" fill="#6628fe"/><circle cx="795.4" cy="332.8" r="1.2" fill="#6628fe"/><circle cx="786.4" cy="336.4" r="1.2" fill="#6628fe"/><circle cx="793.4" cy="330.1" r="1.2" fill="#6628fe"/><circle cx="793.0" cy="334.2" r="1.2" fill="#6628fe"/><circle cx="801.2" cy="332.0" r="1.2" fill="#6628fe"/><circle cx="795.5" cy="337.0" r="1.2" fill="#6628fe"/><circle cx="786.5" cy="335.8" r="1.2" fill="#6628fe"/><circle cx="781.7" cy="333.6" r="1.2" fill="#6628fe"/><circle cx="797.5" cy="333.5" r="1.2" fill="#6628fe"/><circle cx="819.6" cy="330.3" r="1.1" fill="#6628fe"/><circle cx="810.5" cy="329.9" r="1.1" fill="#6628fe"/><circle cx="816.9" cy="328.4" r="1.1" fill="#6628fe"/><circle cx="808.1" cy="330.6" r="1.1" fill="#6628fe"/><circle cx="788.5" cy="335.3" r="1.2" fill="#573ffd"/><circle cx="785.9" cy="336.3" r="1.2" fill="#573ffd"/><circle cx="790.3" cy="332.0" r="1.2" fill="#573ffd"/><circle cx="781.3" cy="335.4" r="1.2" fill="#573ffd"/><circle cx="790.7" cy="334.2" r="1.2" fill="#573ffd"/><circle cx="794.8" cy="333.0" r="1.2" fill="#573ffd"/><circle cx="797.3" cy="337.1" r="1.2" fill="#573ffd"/><circle cx="784.2" cy="337.0" r="1.2" fill="#573ffd"/><circle cx="789.0" cy="334.7" r="1.2" fill="#573ffd"/><circle cx="794.3" cy="337.1" r="1.2" fill="#573ffd"/><circle cx="779.9" cy="336.9" r="1.2" fill="#573ffd"/><circle cx="789.9" cy="334.2" r="1.2" fill="#573ffd"/><circle cx="789.9" cy="329.4" r="1.2" fill="#573ffd"/><circle cx="786.8" cy="336.9" r="1.2" fill="#573ffd"/><circle cx="824.2" cy="329.4" r="1.1" fill="#573ffd"/><circle cx="825.1" cy="330.1" r="1.1" fill="#573ffd"/><circle cx="834.0" cy="326.6" r="1.1" fill="#573ffd"/><circle cx="843.0" cy="323.5" r="1.1" fill="#425efa"/><circle cx="779.1" cy="336.2" r="1.2" fill="#3374f8"/><circle cx="780.0" cy="332.6" r="1.2" fill="#3374f8"/><circle cx="799.7" cy="332.7" r="1.2" fill="#3374f8"/><circle cx="796.8" cy="334.2" r="1.2" fill="#3374f8"/><circle cx="789.6" cy="335.6" r="1.2" fill="#3374f8"/><circle cx="782.3" cy="336.1" r="1.2" fill="#3374f8"/><circle cx="784.9" cy="333.6" r="1.2" fill="#3374f8"/><circle cx="777.7" cy="334.6" r="1.2" fill="#3374f8"/><circle cx="796.9" cy="331.9" r="1.2" fill="#3374f8"/><circle cx="826.9" cy="327.9" r="1.1" fill="#3374f8"/><circle cx="786.7" cy="337.8" r="1.2" fill="#1996f3"/><circle cx="796.6" cy="328.8" r="1.2" fill="#1996f3"/><circle cx="787.7" cy="330.4" r="1.2" fill="#1996f3"/><circle cx="792.9" cy="336.3" r="1.2" fill="#1996f3"/><circle cx="784.6" cy="334.8" r="1.2" fill="#1996f3"/><circle cx="797.0" cy="332.3" r="1.2" fill="#1996f3"/><circle cx="783.6" cy="335.2" r="1.2" fill="#1996f3"/><circle cx="789.6" cy="337.5" r="1.2" fill="#1996f3"/><circle cx="794.5" cy="335.0" r="1.2" fill="#1996f3"/><circle cx="797.7" cy="333.6" r="1.2" fill="#1996f3"/><circle cx="782.5" cy="332.7" r="1.2" fill="#1996f3"/><circle cx="793.2" cy="334.6" r="1.2" fill="#1996f3"/><circle cx="819.2" cy="333.4" r="1.1" fill="#1996f3"/><circle cx="815.1" cy="330.2" r="1.1" fill="#1996f3"/><circle cx="798.3" cy="331.2" r="1.2" fill="#19cee3"/><circle cx="791.6" cy="333.1" r="1.2" fill="#19cee3"/><circle cx="793.1" cy="334.1" r="1.2" fill="#19cee3"/><circle cx="795.3" cy="331.8" r="1.2" fill="#19cee3"/><circle cx="778.5" cy="336.9" r="1.2" fill="#19cee3"/><circle cx="792.2" cy="334.3" r="1.2" fill="#19cee3"/><circle cx="792.1" cy="333.9" r="1.2" fill="#19cee3"/><circle cx="793.4" cy="333.0" r="1.2" fill="#19cee3"/><circle cx="802.3" cy="332.1" r="1.2" fill="#19cee3"/><circle cx="806.0" cy="329.3" r="1.1" fill="#19cee3"/><circle cx="810.2" cy="332.3" r="1.1" fill="#19cee3"/><circle cx="807.0" cy="330.6" r="1.1" fill="#19cee3"/><circle cx="791.1" cy="331.4" r="1.2" fill="#29dbde"/><circle cx="806.5" cy="330.8" r="1.2" fill="#29dbde"/><circle cx="784.4" cy="334.4" r="1.2" fill="#29dbde"/><circle cx="790.4" cy="330.4" r="1.2" fill="#29dbde"/><circle cx="780.8" cy="335.3" r="1.2" fill="#29dbde"/><circle cx="786.3" cy="337.4" r="1.2" fill="#29dbde"/><circle cx="827.8" cy="328.4" r="1.1" fill="#29dbde"/><circle cx="811.9" cy="327.0" r="1.1" fill="#29dbde"/><circle cx="787.0" cy="326.0" r="1.2" fill="#29dbde"/><circle cx="785.2" cy="329.5" r="1.2" fill="#38e7d7"/><circle cx="789.0" cy="332.6" r="1.2" fill="#38e7d7"/><circle cx="791.3" cy="331.9" r="1.2" fill="#38e7d7"/><circle cx="795.0" cy="332.3" r="1.2" fill="#38e7d7"/><circle cx="787.3" cy="334.6" r="1.2" fill="#38e7d7"/><circle cx="791.7" cy="333.1" r="1.2" fill="#38e7d7"/><circle cx="790.7" cy="331.5" r="1.2" fill="#38e7d7"/><circle cx="794.7" cy="332.3" r="1.2" fill="#38e7d7"/><circle cx="794.2" cy="335.4" r="1.2" fill="#38e7d7"/><circle cx="778.8" cy="336.0" r="1.2" fill="#38e7d7"/><circle cx="806.5" cy="331.8" r="1.1" fill="#38e7d7"/><circle cx="811.8" cy="330.7" r="1.1" fill="#38e7d7"/><circle cx="826.7" cy="329.1" r="1.1" fill="#38e7d7"/><circle cx="788.9" cy="333.5" r="1.2" fill="#66fcc2"/><circle cx="789.6" cy="331.7" r="1.2" fill="#66fcc2"/><circle cx="798.4" cy="334.8" r="1.2" fill="#66fcc2"/><circle cx="784.3" cy="333.7" r="1.2" fill="#66fcc2"/><circle cx="784.7" cy="335.0" r="1.2" fill="#66fcc2"/><circle cx="779.2" cy="335.4" r="1.2" fill="#66fcc2"/><circle cx="789.6" cy="333.6" r="1.2" fill="#66fcc2"/><circle cx="796.8" cy="332.5" r="1.2" fill="#66fcc2"/><circle cx="792.4" cy="338.2" r="1.2" fill="#66fcc2"/><circle cx="794.4" cy="334.8" r="1.2" fill="#66fcc2"/><circle cx="794.1" cy="335.4" r="1.2" fill="#66fcc2"/><circle cx="798.3" cy="332.4" r="1.2" fill="#66fcc2"/><circle cx="784.1" cy="333.1" r="1.2" fill="#66fcc2"/><circle cx="795.2" cy="332.6" r="1.2" fill="#66fcc2"/><circle cx="792.6" cy="331.7" r="1.2" fill="#66fcc2"/><circle cx="800.1" cy="334.7" r="1.2" fill="#66fcc2"/><circle cx="804.1" cy="332.5" r="1.1" fill="#66fcc2"/><circle cx="816.4" cy="331.3" r="1.1" fill="#66fcc2"/><circle cx="808.5" cy="329.4" r="1.1" fill="#66fcc2"/><circle cx="815.2" cy="331.1" r="1.1" fill="#66fcc2"/><circle cx="808.9" cy="333.4" r="1.1" fill="#66fcc2"/><circle cx="798.4" cy="331.5" r="1.2" fill="#99fca6"/><circle cx="791.1" cy="333.9" r="1.2" fill="#99fca6"/><circle cx="789.3" cy="331.5" r="1.2" fill="#99fca6"/><circle cx="797.1" cy="333.3" r="1.2" fill="#99fca6"/><circle cx="786.6" cy="329.4" r="1.2" fill="#99fca6"/><circle cx="788.4" cy="332.9" r="1.2" fill="#99fca6"/><circle cx="795.5" cy="334.2" r="1.2" fill="#99fca6"/><circle cx="788.5" cy="335.6" r="1.2" fill="#99fca6"/><circle cx="783.9" cy="335.0" r="1.2" fill="#99fca6"/><circle cx="823.7" cy="331.9" r="1.1" fill="#99fca6"/><circle cx="811.1" cy="326.7" r="1.1" fill="#99fca6"/><circle cx="821.6" cy="332.0" r="1.1" fill="#99fca6"/><circle cx="773.0" cy="336.0" r="1.2" fill="#99fca6"/><circle cx="776.0" cy="334.0" r="1.1" fill="#99fca6"/><circle cx="791.2" cy="332.9" r="1.2" fill="#ff964f"/><circle cx="793.5" cy="332.8" r="1.2" fill="#ff964f"/><circle cx="786.1" cy="335.2" r="1.2" fill="#ff964f"/><circle cx="787.0" cy="334.0" r="1.2" fill="#ff964f"/><circle cx="782.4" cy="334.5" r="1.2" fill="#ff964f"/><circle cx="788.8" cy="333.2" r="1.2" fill="#ff964f"/><circle cx="784.8" cy="333.3" r="1.2" fill="#ff964f"/><circle cx="794.4" cy="334.2" r="1.2" fill="#ff964f"/><circle cx="786.4" cy="336.3" r="1.2" fill="#ff964f"/><circle cx="796.4" cy="334.0" r="1.2" fill="#ff964f"/><circle cx="782.4" cy="337.9" r="1.2" fill="#ff964f"/><circle cx="792.3" cy="333.5" r="1.2" fill="#ff964f"/><circle cx="792.7" cy="329.9" r="1.2" fill="#ff964f"/><circle cx="797.7" cy="330.0" r="1.2" fill="#ff964f"/><circle cx="795.2" cy="332.7" r="1.2" fill="#ff964f"/><circle cx="785.8" cy="334.6" r="1.2" fill="#ff964f"/><circle cx="795.7" cy="334.2" r="1.2" fill="#ff964f"/><circle cx="793.3" cy="333.3" r="1.2" fill="#ff964f"/><circle cx="790.5" cy="335.6" r="1.2" fill="#ff964f"/><circle cx="786.0" cy="333.7" r="1.2" fill="#ff964f"/><circle cx="785.0" cy="335.5" r="1.2" fill="#ff964f"/><circle cx="798.8" cy="332.3" r="1.2" fill="#ff964f"/><circle cx="783.3" cy="333.2" r="1.2" fill="#ff964f"/><circle cx="785.3" cy="335.8" r="1.2" fill="#ff964f"/><circle cx="788.6" cy="333.6" r="1.2" fill="#ff964f"/><circle cx="790.9" cy="335.2" r="1.2" fill="#ff964f"/><circle cx="790.1" cy="334.0" r="1.2" fill="#ff964f"/><circle cx="794.6" cy="334.5" r="1.2" fill="#ff964f"/><circle cx="795.8" cy="331.6" r="1.2" fill="#ff964f"/><circle cx="789.9" cy="336.2" r="1.2" fill="#ff964f"/><circle cx="784.9" cy="334.9" r="1.2" fill="#ff964f"/><circle cx="790.0" cy="330.1" r="1.2" fill="#ff964f"/><circle cx="787.4" cy="332.0" r="1.2" fill="#ff964f"/><circle cx="788.5" cy="332.6" r="1.2" fill="#ff964f"/><circle cx="795.1" cy="336.0" r="1.2" fill="#ff964f"/><circle cx="791.0" cy="331.9" r="1.2" fill="#ff964f"/><circle cx="794.1" cy="330.6" r="1.2" fill="#ff964f"/><circle cx="784.4" cy="334.5" r="1.2" fill="#ff964f"/><circle cx="794.8" cy="333.6" r="1.2" fill="#ff964f"/><circle cx="784.7" cy="330.6" r="1.2" fill="#ff964f"/><circle cx="792.4" cy="334.2" r="1.2" fill="#ff964f"/><circle cx="791.5" cy="332.8" r="1.2" fill="#ff964f"/><circle cx="780.4" cy="335.7" r="1.2" fill="#ff964f"/><circle cx="800.3" cy="335.8" r="1.2" fill="#ff964f"/><circle cx="786.9" cy="332.8" r="1.2" fill="#ff964f"/><circle cx="794.9" cy="334.6" r="1.2" fill="#ff964f"/><circle cx="790.7" cy="334.1" r="1.2" fill="#ff964f"/><circle cx="788.2" cy="332.1" r="1.2" fill="#ff964f"/><circle cx="780.6" cy="336.4" r="1.2" fill="#ff964f"/><circle cx="795.9" cy="331.0" r="1.2" fill="#ff964f"/><circle cx="783.5" cy="336.3" r="1.2" fill="#ff964f"/><circle cx="796.5" cy="335.4" r="1.2" fill="#ff964f"/><circle cx="790.4" cy="330.9" r="1.2" fill="#ff964f"/><circle cx="792.9" cy="330.5" r="1.2" fill="#ff964f"/><circle cx="788.6" cy="338.0" r="1.2" fill="#ff964f"/><circle cx="784.7" cy="333.2" r="1.2" fill="#ff964f"/><circle cx="793.0" cy="332.6" r="1.2" fill="#ff964f"/><circle cx="787.3" cy="338.3" r="1.2" fill="#ff964f"/><circle cx="789.3" cy="331.6" r="1.2" fill="#ff964f"/><circle cx="795.7" cy="332.1" r="1.2" fill="#ff964f"/><circle cx="792.4" cy="333.5" r="1.2" fill="#ff964f"/><circle cx="793.1" cy="336.8" r="1.2" fill="#ff964f"/><circle cx="784.1" cy="337.0" r="1.2" fill="#ff964f"/><circle cx="800.9" cy="332.4" r="1.2" fill="#ff964f"/><circle cx="787.5" cy="333.5" r="1.2" fill="#ff964f"/><circle cx="786.8" cy="333.3" r="1.2" fill="#ff964f"/><circle cx="790.6" cy="335.6" r="1.2" fill="#ff964f"/><circle cx="787.9" cy="332.7" r="1.2" fill="#ff964f"/><circle cx="789.3" cy="334.5" r="1.2" fill="#ff964f"/><circle cx="794.7" cy="330.8" r="1.2" fill="#ff964f"/><circle cx="793.0" cy="335.8" r="1.2" fill="#ff964f"/><circle cx="792.2" cy="336.8" r="1.2" fill="#ff964f"/><circle cx="796.9" cy="330.1" r="1.2" fill="#ff964f"/><circle cx="801.8" cy="331.7" r="1.2" fill="#ff964f"/><circle cx="790.9" cy="336.2" r="1.2" fill="#ff964f"/><circle cx="783.5" cy="334.9" r="1.2" fill="#ff964f"/><circle cx="795.0" cy="334.4" r="1.2" fill="#ff964f"/><circle cx="795.4" cy="337.8" r="1.2" fill="#ff964f"/><circle cx="786.2" cy="334.7" r="1.2" fill="#ff964f"/><circle cx="805.6" cy="331.9" r="1.2" fill="#ff964f"/><circle cx="790.2" cy="331.2" r="1.2" fill="#ff964f"/><circle cx="791.1" cy="333.6" r="1.2" fill="#ff964f"/><circle cx="790.0" cy="336.0" r="1.2" fill="#ff964f"/><circle cx="793.2" cy="335.3" r="1.2" fill="#ff964f"/><circle cx="786.2" cy="334.8" r="1.2" fill="#ff964f"/><circle cx="780.5" cy="334.9" r="1.2" fill="#ff964f"/><circle cx="798.1" cy="334.0" r="1.2" fill="#ff964f"/><circle cx="781.5" cy="333.2" r="1.2" fill="#ff964f"/><circle cx="794.0" cy="336.2" r="1.2" fill="#ff964f"/><circle cx="790.9" cy="332.1" r="1.2" fill="#ff964f"/><circle cx="794.6" cy="335.7" r="1.2" fill="#ff964f"/><circle cx="790.9" cy="333.7" r="1.2" fill="#ff964f"/><circle cx="796.6" cy="336.3" r="1.2" fill="#ff964f"/><circle cx="784.7" cy="331.8" r="1.2" fill="#ff964f"/><circle cx="788.4" cy="335.8" r="1.2" fill="#ff964f"/><circle cx="785.7" cy="332.7" r="1.2" fill="#ff964f"/><circle cx="790.2" cy="332.3" r="1.2" fill="#ff964f"/><circle cx="780.6" cy="334.9" r="1.2" fill="#ff964f"/><circle cx="788.1" cy="334.2" r="1.2" fill="#ff964f"/><circle cx="799.9" cy="332.5" r="1.2" fill="#ff964f"/><circle cx="798.9" cy="332.4" r="1.2" fill="#ff964f"/><circle cx="790.6" cy="333.5" r="1.2" fill="#ff964f"/><circle cx="792.4" cy="333.5" r="1.2" fill="#ff964f"/><circle cx="792.3" cy="340.5" r="1.2" fill="#ff964f"/><circle cx="789.4" cy="338.7" r="1.2" fill="#ff964f"/><circle cx="783.1" cy="337.1" r="1.2" fill="#ff964f"/><circle cx="796.3" cy="335.1" r="1.2" fill="#ff964f"/><circle cx="783.9" cy="336.3" r="1.2" fill="#ff964f"/><circle cx="785.9" cy="336.8" r="1.2" fill="#ff964f"/><circle cx="790.2" cy="333.6" r="1.2" fill="#ff964f"/><circle cx="793.1" cy="332.0" r="1.2" fill="#ff964f"/><circle cx="800.5" cy="332.6" r="1.2" fill="#ff964f"/><circle cx="785.8" cy="334.5" r="1.2" fill="#ff964f"/><circle cx="788.3" cy="335.3" r="1.2" fill="#ff964f"/><circle cx="786.1" cy="333.1" r="1.2" fill="#ff964f"/><circle cx="782.8" cy="336.6" r="1.2" fill="#ff964f"/><circle cx="788.8" cy="334.7" r="1.2" fill="#ff964f"/><circle cx="779.6" cy="337.3" r="1.2" fill="#ff964f"/><circle cx="791.8" cy="335.7" r="1.2" fill="#ff964f"/><circle cx="784.6" cy="338.3" r="1.2" fill="#ff964f"/><circle cx="787.8" cy="338.9" r="1.2" fill="#ff964f"/><circle cx="794.2" cy="331.7" r="1.2" fill="#ff964f"/><circle cx="791.0" cy="333.4" r="1.2" fill="#ff964f"/><circle cx="787.2" cy="332.9" r="1.2" fill="#ff964f"/><circle cx="787.1" cy="335.1" r="1.2" fill="#ff964f"/><circle cx="793.4" cy="337.7" r="1.2" fill="#ff964f"/><circle cx="783.2" cy="335.8" r="1.2" fill="#ff964f"/><circle cx="793.5" cy="335.8" r="1.2" fill="#ff964f"/><circle cx="782.6" cy="337.0" r="1.2" fill="#ff964f"/><circle cx="802.0" cy="332.7" r="1.2" fill="#ff964f"/><circle cx="789.9" cy="332.4" r="1.2" fill="#ff964f"/><circle cx="790.1" cy="331.2" r="1.2" fill="#ff964f"/><circle cx="784.2" cy="336.8" r="1.2" fill="#ff964f"/><circle cx="792.9" cy="329.8" r="1.2" fill="#ff964f"/><circle cx="796.8" cy="332.7" r="1.2" fill="#ff964f"/><circle cx="802.5" cy="331.4" r="1.2" fill="#ff964f"/><circle cx="798.9" cy="334.0" r="1.2" fill="#ff964f"/><circle cx="795.5" cy="334.9" r="1.2" fill="#ff964f"/><circle cx="783.9" cy="332.8" r="1.2" fill="#ff964f"/><circle cx="796.6" cy="334.0" r="1.2" fill="#ff964f"/><circle cx="786.7" cy="335.3" r="1.2" fill="#ff964f"/><circle cx="795.1" cy="333.4" r="1.2" fill="#ff964f"/><circle cx="782.6" cy="334.7" r="1.2" fill="#ff964f"/><circle cx="782.6" cy="336.1" r="1.2" fill="#ff964f"/><circle cx="796.4" cy="334.0" r="1.2" fill="#ff964f"/><circle cx="790.4" cy="332.4" r="1.2" fill="#ff964f"/><circle cx="788.8" cy="338.9" r="1.2" fill="#ff964f"/><circle cx="791.8" cy="333.4" r="1.2" fill="#ff964f"/><circle cx="803.9" cy="332.2" r="1.2" fill="#ff964f"/><circle cx="787.3" cy="334.7" r="1.2" fill="#ff964f"/><circle cx="794.0" cy="333.2" r="1.2" fill="#ff964f"/><circle cx="794.8" cy="330.3" r="1.2" fill="#ff964f"/><circle cx="796.5" cy="333.7" r="1.2" fill="#ff964f"/><circle cx="793.4" cy="332.9" r="1.2" fill="#ff964f"/><circle cx="791.2" cy="333.5" r="1.2" fill="#ff964f"/><circle cx="793.9" cy="330.4" r="1.2" fill="#ff964f"/><circle cx="790.7" cy="334.7" r="1.2" fill="#ff964f"/><circle cx="789.3" cy="337.8" r="1.2" fill="#ff964f"/><circle cx="794.3" cy="333.6" r="1.2" fill="#ff964f"/><circle cx="804.3" cy="331.5" r="1.2" fill="#ff964f"/><circle cx="790.0" cy="336.5" r="1.2" fill="#ff964f"/><circle cx="794.6" cy="330.5" r="1.2" fill="#ff964f"/><circle cx="787.5" cy="336.0" r="1.2" fill="#ff964f"/><circle cx="790.5" cy="333.0" r="1.2" fill="#ff964f"/><circle cx="790.1" cy="332.2" r="1.2" fill="#ff964f"/><circle cx="797.4" cy="333.4" r="1.2" fill="#ff964f"/><circle cx="787.1" cy="333.4" r="1.2" fill="#ff964f"/><circle cx="806.0" cy="331.7" r="1.2" fill="#ff964f"/><circle cx="790.9" cy="332.0" r="1.2" fill="#ff964f"/><circle cx="789.5" cy="335.8" r="1.2" fill="#ff964f"/><circle cx="786.4" cy="334.9" r="1.2" fill="#ff964f"/><circle cx="787.4" cy="338.8" r="1.2" fill="#ff964f"/><circle cx="794.2" cy="334.0" r="1.2" fill="#ff964f"/><circle cx="781.4" cy="334.8" r="1.2" fill="#ff964f"/><circle cx="788.4" cy="334.3" r="1.2" fill="#ff964f"/><circle cx="793.2" cy="332.6" r="1.2" fill="#ff964f"/><circle cx="781.4" cy="337.1" r="1.2" fill="#ff964f"/><circle cx="796.4" cy="334.5" r="1.2" fill="#ff964f"/><circle cx="791.2" cy="336.0" r="1.2" fill="#ff964f"/><circle cx="791.3" cy="335.5" r="1.2" fill="#ff964f"/><circle cx="787.7" cy="333.1" r="1.2" fill="#ff964f"/><circle cx="785.8" cy="337.1" r="1.2" fill="#ff964f"/><circle cx="787.9" cy="332.2" r="1.2" fill="#ff964f"/><circle cx="784.7" cy="338.8" r="1.2" fill="#ff964f"/><circle cx="784.8" cy="334.0" r="1.2" fill="#ff964f"/><circle cx="803.3" cy="329.8" r="1.2" fill="#ff964f"/><circle cx="793.2" cy="336.7" r="1.2" fill="#ff964f"/><circle cx="802.9" cy="332.4" r="1.2" fill="#ff964f"/><circle cx="790.5" cy="332.7" r="1.2" fill="#ff964f"/><circle cx="796.8" cy="335.4" r="1.2" fill="#ff964f"/><circle cx="793.0" cy="334.9" r="1.2" fill="#ff964f"/><circle cx="792.6" cy="333.2" r="1.2" fill="#ff964f"/><circle cx="795.3" cy="329.0" r="1.2" fill="#ff964f"/><circle cx="791.8" cy="332.5" r="1.2" fill="#ff964f"/><circle cx="784.1" cy="336.0" r="1.2" fill="#ff964f"/><circle cx="787.4" cy="332.7" r="1.2" fill="#ff964f"/><circle cx="788.4" cy="335.8" r="1.2" fill="#ff964f"/><circle cx="785.2" cy="336.2" r="1.2" fill="#ff964f"/><circle cx="829.9" cy="328.8" r="1.1" fill="#ff964f"/><circle cx="810.0" cy="329.7" r="1.1" fill="#ff964f"/><circle cx="808.9" cy="331.4" r="1.1" fill="#ff964f"/><circle cx="815.4" cy="332.2" r="1.1" fill="#ff964f"/><circle cx="850.5" cy="330.0" r="1.1" fill="#ff964f"/><circle cx="781.0" cy="327.0" r="1" fill="#ff964f"/>
<circle cx="790" cy="482" r="1" fill="#80ffa8"/><circle cx="795" cy="481" r="1.1" fill="#80ffa8"/><circle cx="800" cy="481" r="1.1" fill="#80ffa8"/><circle cx="805" cy="483" r="1.3" fill="#80ffa8"/><circle cx="808" cy="481" r="1" fill="#80ffa8"/><circle cx="785" cy="483.5" r="1" fill="#80ffa8"/><circle cx="811" cy="483.5" r="1" fill="#80ffa8"/><circle cx="798" cy="486" r="1" fill="#80ffa8"/>
</g>
<rect x="241.8" y="157.4" width="510.5" height="495.4" fill="none" stroke="#000" stroke-width="1.2"/>
<rect x="242.3" y="54.1" width="510" height="103.3" fill="none" stroke="#000" stroke-width="2.8"/>
<rect x="752.3" y="54.1" width="109.5" height="103.3" fill="none" stroke="#000" stroke-width="2.8"/>
<rect x="752.3" y="157.4" width="109.5" height="495.5" fill="none" stroke="#000" stroke-width="2.8"/>
<text x="219.2" y="51.9" font-size="11" text-anchor="start" fill="#000" textLength="12.72" lengthAdjust="spacingAndGlyphs">15</text>
<text x="219.2" y="87" font-size="11" text-anchor="start" fill="#000" textLength="12.72" lengthAdjust="spacingAndGlyphs">10</text>
<text x="219.9" y="121.9" font-size="11" text-anchor="start" fill="#000" textLength="6.36" lengthAdjust="spacingAndGlyphs">5</text>
<text x="219.9" y="156.7" font-size="11" text-anchor="start" fill="#000" textLength="6.36" lengthAdjust="spacingAndGlyphs">0</text>
<text x="186.0" y="104.6" font-size="11.3" text-anchor="start" fill="#000" textLength="17.77" lengthAdjust="spacingAndGlyphs">Km</text>
<text x="235.0" y="653.6" font-size="11" text-anchor="end" fill="#000" textLength="25.20" lengthAdjust="spacingAndGlyphs">40°N</text>
<text x="235.0" y="607.4" font-size="11" text-anchor="end" fill="#000" textLength="34.74" lengthAdjust="spacingAndGlyphs">40.5°N</text>
<text x="235.0" y="559.2" font-size="11" text-anchor="end" fill="#000" textLength="25.20" lengthAdjust="spacingAndGlyphs">41°N</text>
<text x="235.0" y="510.6" font-size="11" text-anchor="end" fill="#000" textLength="34.74" lengthAdjust="spacingAndGlyphs">41.5°N</text>
<text x="235.0" y="461.7" font-size="11" text-anchor="end" fill="#000" textLength="25.20" lengthAdjust="spacingAndGlyphs">42°N</text>
<text x="235.0" y="412.4" font-size="11" text-anchor="end" fill="#000" textLength="34.74" lengthAdjust="spacingAndGlyphs">42.5°N</text>
<text x="235.0" y="362.6" font-size="11" text-anchor="end" fill="#000" textLength="25.20" lengthAdjust="spacingAndGlyphs">43°N</text>
<text x="235.0" y="312.5" font-size="11" text-anchor="end" fill="#000" textLength="34.74" lengthAdjust="spacingAndGlyphs">43.5°N</text>
<text x="235.0" y="262.0" font-size="11" text-anchor="end" fill="#000" textLength="25.20" lengthAdjust="spacingAndGlyphs">44°N</text>
<text x="235.0" y="211.0" font-size="11" text-anchor="end" fill="#000" textLength="34.74" lengthAdjust="spacingAndGlyphs">44.5°N</text>
<text x="240.8" y="666.9" font-size="11" text-anchor="middle" fill="#000" textLength="17.68" lengthAdjust="spacingAndGlyphs">5°E</text>
<text x="277.3" y="666.9" font-size="11" text-anchor="middle" fill="#000" textLength="27.22" lengthAdjust="spacingAndGlyphs">5.5°E</text>
<text x="313.8" y="666.9" font-size="11" text-anchor="middle" fill="#000" textLength="17.68" lengthAdjust="spacingAndGlyphs">6°E</text>
<text x="350.3" y="666.9" font-size="11" text-anchor="middle" fill="#000" textLength="27.22" lengthAdjust="spacingAndGlyphs">6.5°E</text>
<text x="386.8" y="666.9" font-size="11" text-anchor="middle" fill="#000" textLength="17.68" lengthAdjust="spacingAndGlyphs">7°E</text>
<text x="423.3" y="666.9" font-size="11" text-anchor="middle" fill="#000" textLength="27.22" lengthAdjust="spacingAndGlyphs">7.5°E</text>
<text x="459.8" y="666.9" font-size="11" text-anchor="middle" fill="#000" textLength="17.68" lengthAdjust="spacingAndGlyphs">8°E</text>
<text x="496.3" y="666.9" font-size="11" text-anchor="middle" fill="#000" textLength="27.22" lengthAdjust="spacingAndGlyphs">8.5°E</text>
<text x="532.8" y="666.9" font-size="11" text-anchor="middle" fill="#000" textLength="17.68" lengthAdjust="spacingAndGlyphs">9°E</text>
<text x="569.3" y="666.9" font-size="11" text-anchor="middle" fill="#000" textLength="27.22" lengthAdjust="spacingAndGlyphs">9.5°E</text>
<text x="605.9" y="666.9" font-size="11" text-anchor="middle" fill="#000" textLength="24.04" lengthAdjust="spacingAndGlyphs">10°E</text>
<text x="642.4" y="666.9" font-size="11" text-anchor="middle" fill="#000" textLength="33.59" lengthAdjust="spacingAndGlyphs">10.5°E</text>
<text x="678.9" y="666.9" font-size="11" text-anchor="middle" fill="#000" textLength="24.04" lengthAdjust="spacingAndGlyphs">11°E</text>
<text x="715.4" y="666.9" font-size="11" text-anchor="middle" fill="#000" textLength="33.59" lengthAdjust="spacingAndGlyphs">11.5°E</text>
<text x="752.6" y="666.5" font-size="11" text-anchor="start" fill="#000" textLength="6.36" lengthAdjust="spacingAndGlyphs">0</text>
<text x="788.7" y="666.5" font-size="11" text-anchor="start" fill="#000" textLength="6.36" lengthAdjust="spacingAndGlyphs">5</text>
<text x="824.5" y="666.5" font-size="11" text-anchor="start" fill="#000" textLength="12.72" lengthAdjust="spacingAndGlyphs">10</text>
<text x="862" y="666.5" font-size="11" text-anchor="start" fill="#000" textLength="12.72" lengthAdjust="spacingAndGlyphs">15</text>
<text x="806.7" y="676.4" font-size="11.3" text-anchor="start" fill="#000" textLength="17.77" lengthAdjust="spacingAndGlyphs">Km</text>
<text x="773" y="84.2" font-size="11" text-anchor="middle" fill="#000" textLength="6.36" lengthAdjust="spacingAndGlyphs">6</text>
<text x="784.4" y="84.2" font-size="11" text-anchor="middle" fill="#000" >:</text>
<text x="815.8" y="84.2" font-size="11" text-anchor="middle" fill="#000" textLength="25.45" lengthAdjust="spacingAndGlyphs">1750</text>
<text x="773" y="94.4" font-size="11" text-anchor="middle" fill="#ff0000" textLength="6.36" lengthAdjust="spacingAndGlyphs">7</text>
<text x="784.4" y="94.4" font-size="11" text-anchor="middle" fill="#ff0000" >:</text>
<text x="815.8" y="94.4" font-size="11" text-anchor="middle" fill="#ff0000" textLength="19.09" lengthAdjust="spacingAndGlyphs">636</text>
<text x="773" y="104.6" font-size="11" text-anchor="middle" fill="#000" textLength="6.36" lengthAdjust="spacingAndGlyphs">8</text>
<text x="784.4" y="104.6" font-size="11" text-anchor="middle" fill="#000" >:</text>
<text x="815.8" y="104.6" font-size="11" text-anchor="middle" fill="#000" textLength="19.09" lengthAdjust="spacingAndGlyphs">178</text>
<text x="773" y="114.8" font-size="11" text-anchor="middle" fill="#000" textLength="6.36" lengthAdjust="spacingAndGlyphs">9</text>
<text x="784.4" y="114.8" font-size="11" text-anchor="middle" fill="#000" >:</text>
<text x="815.8" y="114.8" font-size="11" text-anchor="middle" fill="#000" textLength="12.72" lengthAdjust="spacingAndGlyphs">33</text>
<text x="773" y="125.0" font-size="11" text-anchor="middle" fill="#000" textLength="12.72" lengthAdjust="spacingAndGlyphs">10</text>
<text x="787.4" y="125.0" font-size="11" text-anchor="middle" fill="#000" >:</text>
<text x="818.5" y="125.0" font-size="11" text-anchor="middle" fill="#000" textLength="6.36" lengthAdjust="spacingAndGlyphs">0</text>
<text x="773" y="135.2" font-size="11" text-anchor="middle" fill="#000" textLength="12.72" lengthAdjust="spacingAndGlyphs">11</text>
<text x="787.4" y="135.2" font-size="11" text-anchor="middle" fill="#000" >:</text>
<text x="818.5" y="135.2" font-size="11" text-anchor="middle" fill="#000" textLength="6.36" lengthAdjust="spacingAndGlyphs">0</text>
<text x="773" y="145.4" font-size="11" text-anchor="middle" fill="#000" textLength="12.72" lengthAdjust="spacingAndGlyphs">12</text>
<text x="787.4" y="145.4" font-size="11" text-anchor="middle" fill="#000" >:</text>
<text x="818.5" y="145.4" font-size="11" text-anchor="middle" fill="#000" textLength="6.36" lengthAdjust="spacingAndGlyphs">0</text>
<rect x="158.4" y="690.5" width="786.6" height="37.8" fill="url(#cb)" stroke="#000" stroke-width="1.1"/>
<line x1="158.4" y1="728" x2="158.4" y2="732" stroke="#000" stroke-width="1"/>
<text x="158.4" y="742.7" font-size="11" text-anchor="middle" fill="#000" textLength="6.36" lengthAdjust="spacingAndGlyphs">0</text>
<line x1="315.7" y1="728" x2="315.7" y2="732" stroke="#000" stroke-width="1"/>
<text x="315.7" y="742.7" font-size="11" text-anchor="middle" fill="#000" textLength="6.36" lengthAdjust="spacingAndGlyphs">2</text>
<line x1="473.0" y1="728" x2="473.0" y2="732" stroke="#000" stroke-width="1"/>
<text x="473.0" y="742.7" font-size="11" text-anchor="middle" fill="#000" textLength="6.36" lengthAdjust="spacingAndGlyphs">4</text>
<line x1="630.4" y1="728" x2="630.4" y2="732" stroke="#000" stroke-width="1"/>
<text x="630.4" y="742.7" font-size="11" text-anchor="middle" fill="#000" textLength="6.36" lengthAdjust="spacingAndGlyphs">6</text>
<line x1="787.7" y1="728" x2="787.7" y2="732" stroke="#000" stroke-width="1"/>
<text x="787.7" y="742.7" font-size="11" text-anchor="middle" fill="#000" textLength="6.36" lengthAdjust="spacingAndGlyphs">8</text>
<line x1="945.0" y1="728" x2="945.0" y2="732" stroke="#000" stroke-width="1"/>
<text x="945.0" y="742.7" font-size="11" text-anchor="middle" fill="#000" textLength="12.72" lengthAdjust="spacingAndGlyphs">10</text>
<text x="433.6" y="718.8" font-size="20" text-anchor="start" fill="#000" textLength="248" lengthAdjust="spacingAndGlyphs">from 16:30:00 to 16:39:59</text>
</svg>
</body></html>
